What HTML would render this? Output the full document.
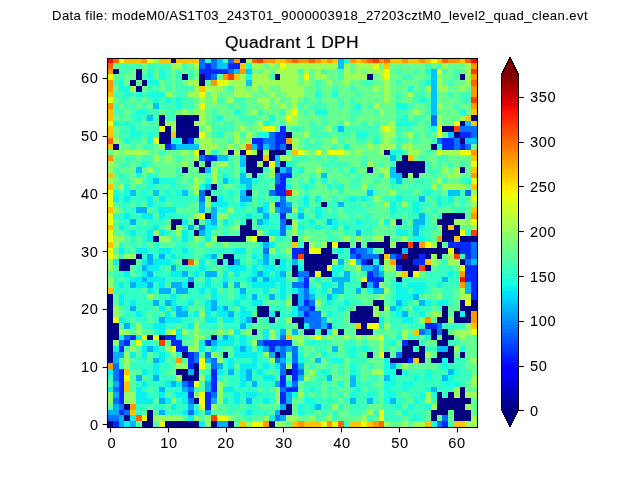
<!DOCTYPE html>
<html><head><meta charset="utf-8"><title>Quadrant 1 DPH</title>
<style>
html,body{margin:0;padding:0;background:#fff;}
body{width:640px;height:480px;position:relative;overflow:hidden;font-family:"Liberation Sans",sans-serif;color:#000;}
svg{position:absolute;left:0;top:0;}
.t{position:absolute;white-space:nowrap;will-change:transform;-webkit-text-stroke:0.05px #000;line-height:1;font-size:14.6px;letter-spacing:0.65px;}
.xt{text-align:center;}
#sup{-webkit-text-stroke:0.08px #000;left:0;width:640px;text-align:center;top:8.7px;font-size:13.1px;letter-spacing:0.41px;}
#ttl{-webkit-text-stroke:0.22px #000;left:92px;width:400px;text-align:center;top:33.8px;font-size:17.4px;letter-spacing:0.4px;}
</style></head>
<body>
<svg width="640" height="480" viewBox="0 0 640 480">
<rect width="640" height="480" fill="#fff"/>
<g shape-rendering="crispEdges">
<path fill="#fa0f00" d="M107 58h6v5h-6zM471 58h7v5h-7zM286 190h6v6h-6zM460 277h5v5h-5z"/>
<path fill="#ff6400" d="M113 58h6v5h-6zM252 58h5v5h-5zM292 58h6v5h-6zM309 58h6v5h-6zM367 58h6v5h-6zM384 58h6v5h-6zM442 58h6v5h-6zM465 58h6v5h-6zM107 63h6v6h-6zM471 80h7v6h-7zM107 138h6v6h-6zM246 144h6v6h-6zM188 259h6v6h-6zM136 415h6v6h-6zM338 421h6v7h-6zM379 421h5v7h-5z"/>
<path fill="#ebff0c" d="M119 58h5v5h-5zM147 58h6v5h-6zM431 58h6v5h-6zM280 63h6v6h-6zM373 63h6v6h-6zM384 69h6v5h-6zM437 69h5v5h-5zM107 74h6v6h-6zM304 74h5v6h-5zM384 74h6v6h-6zM217 80h11v6h-11zM199 92h6v5h-6zM107 97h6v6h-6zM199 103h6v6h-6zM292 109h6v6h-6zM286 115h6v6h-6zM107 121h6v5h-6zM454 121h6v5h-6zM159 126h6v6h-6zM263 126h12v6h-12zM384 126h6v6h-6zM437 126h5v6h-5zM199 132h6v6h-6zM437 132h5v6h-5zM153 138h6v6h-6zM194 150h5v5h-5zM246 150h6v5h-6zM298 150h6v5h-6zM315 150h6v5h-6zM327 150h17v5h-17zM437 150h5v5h-5zM460 150h11v5h-11zM269 161h6v6h-6zM471 161h7v6h-7zM471 178h7v6h-7zM107 190h6v6h-6zM107 196h6v6h-6zM471 196h7v6h-7zM107 202h6v5h-6zM107 213h6v6h-6zM199 213h6v6h-6zM107 219h6v6h-6zM471 219h7v6h-7zM107 230h6v6h-6zM460 230h5v6h-5zM107 236h6v6h-6zM252 236h5v6h-5zM332 242h6v6h-6zM425 242h6v6h-6zM107 248h6v6h-6zM309 248h12v6h-12zM448 248h6v6h-6zM107 254h6v5h-6zM350 259h6v6h-6zM327 265h5v6h-5zM460 265h5v6h-5zM315 271h6v6h-6zM413 271h6v6h-6zM361 277h6v5h-6zM465 300h6v6h-6zM113 317h6v6h-6zM367 323h12v6h-12zM171 329h5v6h-5zM471 329h7v6h-7zM142 335h5v5h-5zM153 335h6v5h-6zM315 335h6v5h-6zM379 335h5v5h-5zM136 340h6v6h-6zM171 346h5v6h-5zM379 352h5v6h-5zM199 358h6v5h-6zM199 363h6v6h-6zM124 375h6v6h-6zM194 381h5v6h-5zM199 392h6v6h-6zM199 398h6v6h-6zM199 404h6v6h-6zM379 410h5v5h-5zM142 415h5v6h-5zM217 415h11v6h-11zM379 415h5v6h-5zM159 421h6v7h-6zM252 421h11v7h-11zM321 421h6v7h-6zM332 421h6v7h-6zM361 421h6v7h-6z"/>
<path fill="#ffc400" d="M124 58h18v5h-18zM159 58h12v5h-12zM176 58h23v5h-23zM275 58h11v5h-11zM321 58h6v5h-6zM332 58h6v5h-6zM356 58h5v5h-5zM390 58h12v5h-12zM408 58h11v5h-11zM425 58h6v5h-6zM437 58h5v5h-5zM460 58h5v5h-5zM240 63h6v6h-6zM384 63h6v6h-6zM234 74h6v6h-6zM199 86h6v6h-6zM107 92h6v5h-6zM107 109h6v6h-6zM471 109h7v6h-7zM107 115h6v6h-6zM465 115h6v6h-6zM471 121h7v5h-7zM107 126h6v6h-6zM107 132h6v6h-6zM171 132h5v6h-5zM107 144h6v6h-6zM292 150h6v5h-6zM263 155h6v6h-6zM408 155h5v6h-5zM471 155h7v6h-7zM471 167h7v6h-7zM107 173h6v5h-6zM107 184h6v6h-6zM471 184h7v6h-7zM107 207h6v6h-6zM471 207h7v6h-7zM107 225h6v5h-6zM448 225h6v5h-6zM454 236h6v6h-6zM107 242h6v6h-6zM292 242h6v6h-6zM384 254h6v5h-6zM425 259h6v6h-6zM402 271h6v6h-6zM107 288h6v6h-6zM356 323h5v6h-5zM471 323h7v6h-7zM413 329h6v6h-6zM286 335h6v5h-6zM413 358h6v5h-6zM124 369h6v6h-6zM124 381h6v6h-6zM124 387h6v5h-6zM130 410h6v5h-6zM240 421h6v7h-6zM292 421h6v7h-6zM304 421h17v7h-17zM350 421h11v7h-11zM367 421h6v7h-6zM425 421h6v7h-6zM454 421h11v7h-11z"/>
<path fill="#ff9800" d="M142 58h5v5h-5zM234 58h6v5h-6zM263 58h12v5h-12zM286 58h6v5h-6zM298 58h11v5h-11zM315 58h6v5h-6zM327 58h5v5h-5zM350 58h6v5h-6zM361 58h6v5h-6zM379 58h5v5h-5zM402 58h6v5h-6zM419 58h6v5h-6zM448 58h12v5h-12zM471 63h7v6h-7zM107 69h6v5h-6zM240 69h6v5h-6zM223 74h5v6h-5zM471 74h7v6h-7zM107 80h6v6h-6zM211 80h6v6h-6zM107 86h6v6h-6zM471 86h7v6h-7zM471 92h7v5h-7zM107 103h6v6h-6zM471 103h7v6h-7zM286 138h6v6h-6zM471 150h7v5h-7zM107 155h6v6h-6zM471 173h7v5h-7zM471 213h7v6h-7zM437 236h5v6h-5zM419 242h6v6h-6zM390 259h6v6h-6zM460 271h5v6h-5zM460 282h5v6h-5zM471 311h7v6h-7zM425 317h6v6h-6zM471 317h7v6h-7zM176 358h6v5h-6zM107 363h6v6h-6zM130 404h6v6h-6zM263 421h6v7h-6zM298 421h6v7h-6zM327 421h5v7h-5zM373 421h6v7h-6z"/>
<path fill="#a0ff56" d="M153 58h6v5h-6zM246 58h6v5h-6zM171 63h11v6h-11zM194 63h5v6h-5zM252 63h11v6h-11zM269 63h6v6h-6zM286 63h52v6h-52zM344 63h6v6h-6zM356 63h17v6h-17zM442 63h6v6h-6zM465 63h6v6h-6zM263 69h6v5h-6zM275 69h23v5h-23zM304 69h5v5h-5zM315 69h6v5h-6zM344 69h6v5h-6zM356 69h5v5h-5zM367 69h17v5h-17zM465 69h6v5h-6zM240 74h6v6h-6zM252 74h17v6h-17zM280 74h18v6h-18zM315 74h12v6h-12zM344 74h23v6h-23zM379 74h5v6h-5zM437 74h5v6h-5zM465 74h6v6h-6zM188 80h11v6h-11zM228 80h18v6h-18zM252 80h46v6h-46zM304 80h5v6h-5zM327 80h5v6h-5zM344 80h6v6h-6zM384 80h6v6h-6zM437 80h5v6h-5zM465 80h6v6h-6zM130 86h6v6h-6zM194 86h5v6h-5zM205 86h18v6h-18zM234 86h12v6h-12zM252 86h5v6h-5zM263 86h6v6h-6zM280 86h24v6h-24zM373 86h6v6h-6zM384 86h6v6h-6zM425 86h6v6h-6zM437 86h11v6h-11zM460 86h5v6h-5zM165 92h6v5h-6zM188 92h11v5h-11zM211 92h6v5h-6zM234 92h18v5h-18zM269 92h6v5h-6zM286 92h18v5h-18zM384 92h6v5h-6zM408 92h5v5h-5zM199 97h6v6h-6zM211 97h6v6h-6zM228 97h6v6h-6zM257 97h12v6h-12zM275 97h5v6h-5zM292 97h6v6h-6zM384 97h6v6h-6zM263 103h6v6h-6zM280 103h6v6h-6zM292 103h6v6h-6zM373 103h6v6h-6zM437 103h5v6h-5zM182 109h6v6h-6zM194 109h11v6h-11zM252 109h5v6h-5zM286 109h6v6h-6zM379 109h5v6h-5zM413 109h6v6h-6zM199 115h6v6h-6zM292 115h6v6h-6zM437 115h5v6h-5zM460 115h5v6h-5zM165 121h11v5h-11zM194 121h11v5h-11zM257 121h6v5h-6zM286 121h12v5h-12zM344 121h6v5h-6zM390 121h6v5h-6zM437 121h5v5h-5zM171 126h5v6h-5zM205 126h6v6h-6zM240 126h6v6h-6zM257 126h6v6h-6zM327 126h5v6h-5zM379 126h5v6h-5zM390 126h6v6h-6zM234 132h6v6h-6zM246 132h6v6h-6zM304 132h5v6h-5zM384 132h12v6h-12zM408 132h5v6h-5zM113 138h6v6h-6zM199 138h12v6h-12zM234 138h6v6h-6zM246 138h6v6h-6zM292 138h6v6h-6zM332 138h6v6h-6zM384 138h6v6h-6zM159 144h6v6h-6zM199 144h18v6h-18zM228 144h6v6h-6zM240 144h6v6h-6zM292 144h6v6h-6zM367 144h6v6h-6zM379 144h17v6h-17zM402 144h11v6h-11zM113 150h6v5h-6zM124 150h23v5h-23zM182 150h6v5h-6zM205 150h6v5h-6zM223 150h5v5h-5zM234 150h6v5h-6zM252 150h5v5h-5zM263 150h6v5h-6zM304 150h5v5h-5zM344 150h6v5h-6zM356 150h5v5h-5zM379 150h5v5h-5zM408 150h11v5h-11zM442 150h18v5h-18zM153 155h6v6h-6zM165 155h6v6h-6zM194 155h5v6h-5zM280 155h12v6h-12zM107 161h6v6h-6zM182 161h6v6h-6zM217 161h11v6h-11zM257 161h6v6h-6zM367 161h6v6h-6zM107 167h6v6h-6zM147 167h6v6h-6zM211 167h6v6h-6zM269 167h6v6h-6zM315 167h6v6h-6zM379 167h11v6h-11zM442 167h6v6h-6zM454 167h6v6h-6zM211 173h6v5h-6zM269 173h6v5h-6zM384 173h6v5h-6zM408 173h5v5h-5zM448 173h12v5h-12zM107 178h6v6h-6zM136 178h6v6h-6zM194 178h5v6h-5zM211 178h6v6h-6zM437 178h5v6h-5zM119 184h5v6h-5zM194 184h5v6h-5zM361 184h6v6h-6zM431 184h6v6h-6zM442 184h23v6h-23zM194 190h5v6h-5zM292 190h6v6h-6zM390 190h6v6h-6zM471 190h7v6h-7z"/>
<path fill="#000080" d="M171 58h5v5h-5zM240 58h6v5h-6zM113 69h6v5h-6zM136 69h6v5h-6zM136 74h6v6h-6zM182 74h6v6h-6zM199 74h6v6h-6zM275 74h5v6h-5zM367 74h6v6h-6zM460 74h5v6h-5zM130 80h6v6h-6zM142 80h5v6h-5zM199 80h6v6h-6zM136 86h6v6h-6zM159 115h6v6h-6zM176 115h23v6h-23zM471 115h7v6h-7zM159 121h6v5h-6zM176 121h18v5h-18zM460 121h5v5h-5zM165 126h6v6h-6zM176 126h23v6h-23zM442 126h12v6h-12zM159 132h12v6h-12zM176 132h23v6h-23zM286 132h6v6h-6zM454 132h6v6h-6zM159 138h12v6h-12zM182 138h6v6h-6zM460 138h5v6h-5zM113 144h6v6h-6zM286 144h6v6h-6zM431 144h6v6h-6zM199 150h6v5h-6zM228 150h6v5h-6zM240 150h6v5h-6zM257 150h6v5h-6zM269 150h17v5h-17zM384 150h6v5h-6zM246 155h17v6h-17zM269 155h6v6h-6zM402 155h6v6h-6zM194 161h5v6h-5zM205 161h6v6h-6zM246 161h11v6h-11zM263 161h6v6h-6zM280 161h6v6h-6zM396 161h29v6h-29zM182 167h6v6h-6zM199 167h6v6h-6zM246 167h17v6h-17zM275 167h5v6h-5zM367 167h6v6h-6zM396 167h29v6h-29zM460 167h5v6h-5zM252 173h5v5h-5zM402 173h6v5h-6zM413 173h6v5h-6zM211 184h6v6h-6zM205 190h6v6h-6zM246 190h6v6h-6zM211 196h6v6h-6zM321 202h6v5h-6zM205 213h6v6h-6zM442 213h23v6h-23zM171 219h11v6h-11zM194 219h5v6h-5zM246 219h6v6h-6zM286 219h6v6h-6zM396 219h6v6h-6zM437 219h17v6h-17zM171 225h5v5h-5zM240 225h12v5h-12zM442 225h6v5h-6zM454 225h6v5h-6zM194 230h5v6h-5zM240 230h17v6h-17zM442 230h18v6h-18zM153 236h6v6h-6zM217 236h29v6h-29zM257 236h12v6h-12zM292 236h6v6h-6zM384 236h6v6h-6zM442 236h12v6h-12zM460 236h18v6h-18zM304 242h5v6h-5zM327 242h5v6h-5zM338 242h12v6h-12zM356 242h5v6h-5zM367 242h23v6h-23zM396 242h12v6h-12zM413 242h6v6h-6zM437 242h5v6h-5zM304 248h5v6h-5zM321 248h11v6h-11zM384 248h18v6h-18zM408 248h40v6h-40zM454 248h6v6h-6zM136 254h6v5h-6zM223 254h11v5h-11zM304 254h34v5h-34zM379 254h5v5h-5zM408 254h11v5h-11zM425 254h6v5h-6zM437 254h5v5h-5zM119 259h17v6h-17zM182 259h6v6h-6zM217 259h6v6h-6zM228 259h6v6h-6zM275 259h5v6h-5zM304 259h28v6h-28zM367 259h6v6h-6zM379 259h5v6h-5zM396 259h17v6h-17zM460 259h5v6h-5zM119 265h11v6h-11zM292 265h6v6h-6zM304 265h23v6h-23zM402 265h17v6h-17zM425 265h6v6h-6zM292 271h6v6h-6zM309 271h6v6h-6zM321 271h11v6h-11zM408 271h5v6h-5zM396 277h6v5h-6zM188 282h6v6h-6zM361 282h6v6h-6zM107 294h6v6h-6zM292 294h6v6h-6zM107 300h6v6h-6zM292 300h6v6h-6zM373 300h11v6h-11zM460 300h5v6h-5zM471 300h7v6h-7zM107 306h6v5h-6zM257 306h12v5h-12zM356 306h17v5h-17zM379 306h5v5h-5zM442 306h6v5h-6zM460 306h18v5h-18zM107 311h6v6h-6zM257 311h12v6h-12zM275 311h5v6h-5zM350 311h23v6h-23zM442 311h6v6h-6zM454 311h6v6h-6zM465 311h6v6h-6zM107 317h6v6h-6zM252 317h5v6h-5zM269 317h6v6h-6zM292 317h12v6h-12zM350 317h29v6h-29zM437 317h11v6h-11zM454 317h17v6h-17zM107 323h12v6h-12zM298 323h6v6h-6zM361 323h6v6h-6zM107 329h12v6h-12zM252 329h5v6h-5zM304 329h11v6h-11zM321 329h6v6h-6zM338 329h6v6h-6zM356 329h17v6h-17zM431 329h6v6h-6zM442 329h6v6h-6zM107 335h12v5h-12zM147 335h6v5h-6zM159 335h6v5h-6zM211 335h6v5h-6zM431 335h6v5h-6zM442 335h12v5h-12zM107 340h6v6h-6zM408 340h11v6h-11zM437 340h11v6h-11zM107 346h6v6h-6zM402 346h11v6h-11zM419 346h6v6h-6zM448 346h6v6h-6zM107 352h6v6h-6zM182 352h6v6h-6zM223 352h5v6h-5zM275 352h5v6h-5zM367 352h6v6h-6zM384 352h6v6h-6zM402 352h23v6h-23zM437 352h17v6h-17zM460 352h5v6h-5zM107 358h6v5h-6zM390 358h18v5h-18zM419 358h6v5h-6zM431 358h11v5h-11zM448 358h6v5h-6zM194 363h5v6h-5zM176 369h12v6h-12zM194 369h5v6h-5zM286 369h6v6h-6zM396 369h6v6h-6zM182 375h17v6h-17zM460 387h5v5h-5zM437 392h5v6h-5zM448 392h6v6h-6zM460 392h5v6h-5zM194 398h5v6h-5zM437 398h34v6h-34zM124 404h6v6h-6zM286 404h6v6h-6zM437 404h28v6h-28zM147 410h6v5h-6zM280 410h12v5h-12zM431 410h17v5h-17zM454 410h17v5h-17zM124 415h6v6h-6zM147 415h6v6h-6zM431 415h6v6h-6zM454 415h17v6h-17zM107 421h6v7h-6zM142 421h11v7h-11zM165 421h34v7h-34zM211 421h6v7h-6zM228 421h6v7h-6zM269 421h6v7h-6z"/>
<path fill="#0070ff" d="M199 58h6v5h-6zM211 58h6v5h-6zM228 58h6v5h-6zM199 63h6v6h-6zM211 63h6v6h-6zM228 69h6v5h-6zM211 74h6v6h-6zM431 115h6v6h-6zM431 121h6v5h-6zM460 126h18v6h-18zM269 132h6v6h-6zM471 132h7v6h-7zM263 138h12v6h-12zM437 138h5v6h-5zM454 138h6v6h-6zM171 144h5v6h-5zM269 144h6v6h-6zM280 144h6v6h-6zM454 144h6v6h-6zM465 144h6v6h-6zM199 155h6v6h-6zM286 167h6v6h-6zM275 173h5v5h-5zM275 178h5v6h-5zM199 190h6v6h-6zM269 190h6v6h-6zM465 190h6v6h-6zM199 196h6v6h-6zM280 196h6v6h-6zM280 202h6v5h-6zM280 207h12v6h-12zM280 219h6v6h-6zM199 225h6v5h-6zM280 225h6v5h-6zM280 230h6v6h-6zM471 242h7v6h-7zM263 248h6v6h-6zM356 248h11v6h-11zM471 248h7v6h-7zM350 254h6v5h-6zM361 254h18v5h-18zM390 254h6v5h-6zM471 254h7v5h-7zM465 259h6v6h-6zM373 265h6v6h-6zM298 271h11v6h-11zM373 271h6v6h-6zM292 282h12v6h-12zM304 288h5v6h-5zM304 294h5v6h-5zM309 300h6v6h-6zM298 306h11v5h-11zM309 311h12v6h-12zM304 317h17v6h-17zM309 323h12v6h-12zM437 323h5v6h-5zM419 329h6v6h-6zM437 329h5v6h-5zM124 335h6v5h-6zM280 335h6v5h-6zM119 340h5v6h-5zM257 340h6v6h-6zM280 346h6v6h-6zM292 346h6v6h-6zM194 352h5v6h-5zM205 352h6v6h-6zM280 352h6v6h-6zM292 352h6v6h-6zM396 352h6v6h-6zM194 358h5v5h-5zM211 358h6v5h-6zM275 358h5v5h-5zM292 358h6v5h-6zM113 363h6v6h-6zM211 363h6v6h-6zM280 363h6v6h-6zM113 369h6v6h-6zM280 369h6v6h-6zM298 369h6v6h-6zM113 375h6v6h-6zM182 381h6v6h-6zM292 381h6v6h-6zM113 387h6v5h-6zM188 387h6v5h-6zM280 387h6v5h-6zM211 392h6v6h-6zM113 398h6v6h-6zM188 398h6v6h-6zM119 404h5v6h-5zM124 410h6v5h-6zM188 410h6v5h-6zM107 415h12v6h-12zM275 415h5v6h-5zM442 415h6v6h-6zM437 421h5v7h-5z"/>
<path fill="#19ffde" d="M205 58h6v5h-6zM344 58h6v5h-6zM246 63h6v6h-6zM147 69h6v5h-6zM159 69h6v5h-6zM425 69h6v5h-6zM147 74h6v6h-6zM159 74h6v6h-6zM246 74h6v6h-6zM119 80h5v6h-5zM147 80h12v6h-12zM425 80h6v6h-6zM119 86h11v6h-11zM408 86h5v6h-5zM124 92h6v5h-6zM136 92h6v5h-6zM147 92h18v5h-18zM315 92h6v5h-6zM332 92h6v5h-6zM153 97h6v6h-6zM165 97h6v6h-6zM176 97h6v6h-6zM419 97h6v6h-6zM176 103h6v6h-6zM356 103h5v6h-5zM396 103h12v6h-12zM136 109h11v6h-11zM234 109h6v6h-6zM315 109h12v6h-12zM460 109h5v6h-5zM136 115h6v6h-6zM217 115h6v6h-6zM269 115h6v6h-6zM402 115h6v6h-6zM113 121h6v5h-6zM124 121h6v5h-6zM263 121h6v5h-6zM396 121h17v5h-17zM130 126h6v6h-6zM431 126h6v6h-6zM130 132h12v6h-12zM147 132h6v6h-6zM217 132h6v6h-6zM257 132h12v6h-12zM356 132h11v6h-11zM124 138h6v6h-6zM147 138h6v6h-6zM171 138h11v6h-11zM373 138h6v6h-6zM344 144h6v6h-6zM437 144h5v6h-5zM211 150h6v5h-6zM390 150h12v5h-12zM142 161h5v6h-5zM286 161h6v6h-6zM240 167h6v6h-6zM298 167h6v6h-6zM350 167h6v6h-6zM119 173h5v5h-5zM136 173h6v5h-6zM147 173h6v5h-6zM223 173h5v5h-5zM379 173h5v5h-5zM147 178h6v6h-6zM159 178h17v6h-17zM205 178h6v6h-6zM228 178h6v6h-6zM252 178h5v6h-5zM309 178h6v6h-6zM321 178h6v6h-6zM390 178h6v6h-6zM465 178h6v6h-6zM124 184h6v6h-6zM147 184h6v6h-6zM171 184h5v6h-5zM199 184h6v6h-6zM240 184h6v6h-6zM286 184h6v6h-6zM304 184h5v6h-5zM327 184h5v6h-5zM338 184h6v6h-6zM113 190h6v6h-6zM124 190h6v6h-6zM142 190h5v6h-5zM165 190h6v6h-6zM176 190h6v6h-6zM228 190h6v6h-6zM425 190h6v6h-6z"/>
<path fill="#00c4ff" d="M217 58h6v5h-6zM338 58h6v5h-6zM217 63h11v6h-11zM338 63h6v6h-6zM234 69h6v5h-6zM246 69h6v5h-6zM431 69h6v5h-6zM431 74h6v6h-6zM246 80h6v6h-6zM431 80h6v6h-6zM431 86h6v6h-6zM431 92h6v5h-6zM431 97h6v6h-6zM153 103h6v6h-6zM431 103h6v6h-6zM431 109h6v6h-6zM147 115h6v6h-6zM465 121h6v5h-6zM338 126h6v6h-6zM448 132h6v6h-6zM465 138h13v6h-13zM176 144h23v6h-23zM252 144h5v6h-5zM263 144h6v6h-6zM217 155h11v6h-11zM240 155h6v6h-6zM275 155h5v6h-5zM390 155h6v6h-6zM240 161h6v6h-6zM275 161h5v6h-5zM136 167h6v6h-6zM205 167h6v6h-6zM280 167h6v6h-6zM390 167h6v6h-6zM240 173h6v5h-6zM321 173h6v5h-6zM390 173h12v5h-12zM153 178h6v6h-6zM223 178h5v6h-5zM240 178h12v6h-12zM396 178h6v6h-6zM205 184h6v6h-6zM246 184h6v6h-6zM130 190h6v6h-6zM153 190h6v6h-6zM182 190h6v6h-6zM240 190h6v6h-6zM367 190h6v6h-6zM448 190h12v6h-12z"/>
<path fill="#40ffb7" d="M223 58h5v5h-5zM119 63h23v6h-23zM147 63h24v6h-24zM182 63h6v6h-6zM425 63h6v6h-6zM437 63h5v6h-5zM119 69h11v5h-11zM165 69h6v5h-6zM176 69h6v5h-6zM188 69h6v5h-6zM298 69h6v5h-6zM321 69h6v5h-6zM338 69h6v5h-6zM396 69h6v5h-6zM413 69h6v5h-6zM442 69h6v5h-6zM454 69h6v5h-6zM119 74h5v6h-5zM142 74h5v6h-5zM165 74h6v6h-6zM176 74h6v6h-6zM188 74h6v6h-6zM269 74h6v6h-6zM338 74h6v6h-6zM402 74h11v6h-11zM425 74h6v6h-6zM454 74h6v6h-6zM113 80h6v6h-6zM165 80h6v6h-6zM176 80h6v6h-6zM315 80h6v6h-6zM361 80h12v6h-12zM396 80h6v6h-6zM419 80h6v6h-6zM448 80h6v6h-6zM147 86h12v6h-12zM165 86h6v6h-6zM176 86h18v6h-18zM228 86h6v6h-6zM315 86h6v6h-6zM332 86h6v6h-6zM350 86h6v6h-6zM419 86h6v6h-6zM113 92h11v5h-11zM130 92h6v5h-6zM142 92h5v5h-5zM176 92h12v5h-12zM356 92h5v5h-5zM396 92h6v5h-6zM413 92h12v5h-12zM448 92h6v5h-6zM460 92h11v5h-11zM119 97h11v6h-11zM136 97h6v6h-6zM147 97h6v6h-6zM159 97h6v6h-6zM171 97h5v6h-5zM182 97h12v6h-12zM217 97h6v6h-6zM234 97h12v6h-12zM304 97h5v6h-5zM315 97h6v6h-6zM338 97h6v6h-6zM350 97h6v6h-6zM396 97h6v6h-6zM413 97h6v6h-6zM425 97h6v6h-6zM460 97h11v6h-11zM113 103h6v6h-6zM124 103h12v6h-12zM142 103h5v6h-5zM159 103h17v6h-17zM182 103h12v6h-12zM228 103h6v6h-6zM240 103h6v6h-6zM298 103h6v6h-6zM309 103h18v6h-18zM338 103h6v6h-6zM350 103h6v6h-6zM367 103h6v6h-6zM408 103h5v6h-5zM425 103h6v6h-6zM454 103h6v6h-6zM113 109h11v6h-11zM130 109h6v6h-6zM147 109h12v6h-12zM165 109h11v6h-11zM211 109h6v6h-6zM240 109h6v6h-6zM257 109h6v6h-6zM280 109h6v6h-6zM304 109h5v6h-5zM350 109h11v6h-11zM373 109h6v6h-6zM396 109h12v6h-12zM425 109h6v6h-6zM119 115h5v6h-5zM130 115h6v6h-6zM142 115h5v6h-5zM153 115h6v6h-6zM165 115h11v6h-11zM211 115h6v6h-6zM240 115h17v6h-17zM321 115h6v6h-6zM350 115h6v6h-6zM396 115h6v6h-6zM413 115h12v6h-12zM119 121h5v5h-5zM130 121h12v5h-12zM147 121h6v5h-6zM211 121h6v5h-6zM223 121h11v5h-11zM246 121h6v5h-6zM269 121h6v5h-6zM280 121h6v5h-6zM309 121h6v5h-6zM321 121h6v5h-6zM338 121h6v5h-6zM361 121h6v5h-6zM373 121h6v5h-6zM413 121h6v5h-6zM425 121h6v5h-6zM119 126h11v6h-11zM136 126h23v6h-23zM211 126h23v6h-23zM292 126h12v6h-12zM309 126h12v6h-12zM332 126h6v6h-6zM344 126h35v6h-35zM396 126h17v6h-17zM425 126h6v6h-6zM119 132h11v6h-11zM142 132h5v6h-5zM153 132h6v6h-6zM211 132h6v6h-6zM240 132h6v6h-6zM309 132h23v6h-23zM338 132h12v6h-12zM367 132h12v6h-12zM396 132h6v6h-6zM413 132h6v6h-6zM425 132h6v6h-6zM130 138h12v6h-12zM228 138h6v6h-6zM304 138h5v6h-5zM315 138h6v6h-6zM338 138h6v6h-6zM356 138h11v6h-11zM396 138h12v6h-12zM413 138h6v6h-6zM431 138h6v6h-6zM130 144h6v6h-6zM142 144h11v6h-11zM304 144h17v6h-17zM332 144h6v6h-6zM396 144h6v6h-6zM159 150h6v5h-6zM286 150h6v5h-6zM402 150h6v5h-6zM425 150h6v5h-6zM124 155h12v6h-12zM142 155h11v6h-11zM176 155h6v6h-6zM228 155h6v6h-6zM292 155h17v6h-17zM315 155h6v6h-6zM327 155h11v6h-11zM361 155h6v6h-6zM396 155h6v6h-6zM419 155h6v6h-6zM437 155h11v6h-11zM119 161h11v6h-11zM136 161h6v6h-6zM147 161h6v6h-6zM228 161h6v6h-6zM292 161h6v6h-6zM321 161h29v6h-29zM361 161h6v6h-6zM379 161h5v6h-5zM390 161h6v6h-6zM425 161h6v6h-6zM437 161h5v6h-5zM448 161h6v6h-6zM460 161h5v6h-5zM113 167h6v6h-6zM153 167h6v6h-6zM176 167h6v6h-6zM217 167h17v6h-17zM263 167h6v6h-6zM292 167h6v6h-6zM327 167h5v6h-5zM338 167h6v6h-6zM425 167h17v6h-17zM124 173h6v5h-6zM153 173h6v5h-6zM176 173h6v5h-6zM205 173h6v5h-6zM217 173h6v5h-6zM228 173h6v5h-6zM257 173h6v5h-6zM292 173h6v5h-6zM309 173h6v5h-6zM344 173h6v5h-6zM356 173h5v5h-5zM431 173h6v5h-6zM119 178h11v6h-11zM142 178h5v6h-5zM176 178h6v6h-6zM188 178h6v6h-6zM217 178h6v6h-6zM234 178h6v6h-6zM257 178h18v6h-18zM286 178h6v6h-6zM298 178h6v6h-6zM332 178h6v6h-6zM350 178h11v6h-11zM373 178h6v6h-6zM402 178h6v6h-6zM413 178h18v6h-18zM442 178h6v6h-6zM460 178h5v6h-5zM136 184h11v6h-11zM153 184h18v6h-18zM176 184h12v6h-12zM217 184h6v6h-6zM234 184h6v6h-6zM252 184h17v6h-17zM298 184h6v6h-6zM309 184h6v6h-6zM332 184h6v6h-6zM350 184h11v6h-11zM367 184h6v6h-6zM390 184h12v6h-12zM408 184h23v6h-23zM437 184h5v6h-5zM119 190h5v6h-5zM136 190h6v6h-6zM147 190h6v6h-6zM159 190h6v6h-6zM171 190h5v6h-5zM188 190h6v6h-6zM211 190h17v6h-17zM234 190h6v6h-6zM257 190h12v6h-12zM304 190h5v6h-5zM338 190h6v6h-6zM373 190h6v6h-6zM396 190h17v6h-17zM419 190h6v6h-6zM431 190h11v6h-11zM460 190h5v6h-5z"/>
<path fill="#ff3f00" d="M257 58h6v5h-6zM373 58h6v5h-6zM471 69h7v5h-7zM228 74h6v6h-6zM471 97h7v6h-7zM454 126h6v6h-6zM471 230h7v6h-7zM408 242h5v6h-5zM298 254h6v5h-6zM454 254h6v5h-6zM419 265h6v6h-6zM159 340h6v6h-6zM211 415h6v6h-6z"/>
<path fill="#66ff90" d="M113 63h6v6h-6zM142 63h5v6h-5zM188 63h6v6h-6zM263 63h6v6h-6zM275 63h5v6h-5zM350 63h6v6h-6zM379 63h5v6h-5zM390 63h35v6h-35zM431 63h6v6h-6zM448 63h17v6h-17zM130 69h6v5h-6zM142 69h5v5h-5zM153 69h6v5h-6zM171 69h5v5h-5zM182 69h6v5h-6zM194 69h5v5h-5zM252 69h11v5h-11zM269 69h6v5h-6zM309 69h6v5h-6zM327 69h11v5h-11zM350 69h6v5h-6zM361 69h6v5h-6zM390 69h6v5h-6zM402 69h11v5h-11zM419 69h6v5h-6zM448 69h6v5h-6zM460 69h5v5h-5zM113 74h6v6h-6zM124 74h12v6h-12zM153 74h6v6h-6zM171 74h5v6h-5zM194 74h5v6h-5zM217 74h6v6h-6zM298 74h6v6h-6zM309 74h6v6h-6zM327 74h11v6h-11zM373 74h6v6h-6zM390 74h12v6h-12zM413 74h12v6h-12zM442 74h12v6h-12zM124 80h6v6h-6zM136 80h6v6h-6zM159 80h6v6h-6zM171 80h5v6h-5zM182 80h6v6h-6zM205 80h6v6h-6zM298 80h6v6h-6zM309 80h6v6h-6zM321 80h6v6h-6zM332 80h12v6h-12zM350 80h11v6h-11zM373 80h11v6h-11zM390 80h6v6h-6zM402 80h17v6h-17zM442 80h6v6h-6zM454 80h11v6h-11zM113 86h6v6h-6zM142 86h5v6h-5zM159 86h6v6h-6zM171 86h5v6h-5zM223 86h5v6h-5zM246 86h6v6h-6zM257 86h6v6h-6zM269 86h11v6h-11zM304 86h11v6h-11zM321 86h11v6h-11zM338 86h12v6h-12zM356 86h17v6h-17zM379 86h5v6h-5zM390 86h18v6h-18zM413 86h6v6h-6zM448 86h12v6h-12zM465 86h6v6h-6zM171 92h5v5h-5zM205 92h6v5h-6zM217 92h17v5h-17zM252 92h17v5h-17zM275 92h11v5h-11zM304 92h11v5h-11zM321 92h11v5h-11zM338 92h18v5h-18zM361 92h23v5h-23zM390 92h6v5h-6zM402 92h6v5h-6zM425 92h6v5h-6zM437 92h11v5h-11zM454 92h6v5h-6zM113 97h6v6h-6zM130 97h6v6h-6zM142 97h5v6h-5zM194 97h5v6h-5zM205 97h6v6h-6zM223 97h5v6h-5zM246 97h11v6h-11zM269 97h6v6h-6zM280 97h12v6h-12zM298 97h6v6h-6zM309 97h6v6h-6zM321 97h17v6h-17zM344 97h6v6h-6zM356 97h28v6h-28zM390 97h6v6h-6zM402 97h11v6h-11zM437 97h23v6h-23zM119 103h5v6h-5zM136 103h6v6h-6zM147 103h6v6h-6zM194 103h5v6h-5zM205 103h23v6h-23zM234 103h6v6h-6zM246 103h17v6h-17zM269 103h11v6h-11zM286 103h6v6h-6zM304 103h5v6h-5zM327 103h11v6h-11zM344 103h6v6h-6zM361 103h6v6h-6zM379 103h17v6h-17zM413 103h12v6h-12zM442 103h12v6h-12zM460 103h11v6h-11zM124 109h6v6h-6zM159 109h6v6h-6zM176 109h6v6h-6zM188 109h6v6h-6zM205 109h6v6h-6zM217 109h17v6h-17zM246 109h6v6h-6zM263 109h17v6h-17zM298 109h6v6h-6zM309 109h6v6h-6zM327 109h23v6h-23zM361 109h12v6h-12zM384 109h12v6h-12zM408 109h5v6h-5zM419 109h6v6h-6zM437 109h23v6h-23zM465 109h6v6h-6zM113 115h6v6h-6zM124 115h6v6h-6zM205 115h6v6h-6zM223 115h17v6h-17zM257 115h12v6h-12zM275 115h11v6h-11zM298 115h23v6h-23zM327 115h23v6h-23zM356 115h40v6h-40zM408 115h5v6h-5zM425 115h6v6h-6zM442 115h18v6h-18zM142 121h5v5h-5zM153 121h6v5h-6zM205 121h6v5h-6zM217 121h6v5h-6zM234 121h12v5h-12zM252 121h5v5h-5zM275 121h5v5h-5zM298 121h11v5h-11zM315 121h6v5h-6zM327 121h11v5h-11zM350 121h11v5h-11zM367 121h6v5h-6zM379 121h11v5h-11zM419 121h6v5h-6zM442 121h12v5h-12zM113 126h6v6h-6zM199 126h6v6h-6zM234 126h6v6h-6zM246 126h11v6h-11zM275 126h5v6h-5zM286 126h6v6h-6zM304 126h5v6h-5zM321 126h6v6h-6zM413 126h12v6h-12zM113 132h6v6h-6zM205 132h6v6h-6zM223 132h11v6h-11zM252 132h5v6h-5zM292 132h12v6h-12zM332 132h6v6h-6zM350 132h6v6h-6zM379 132h5v6h-5zM402 132h6v6h-6zM419 132h6v6h-6zM431 132h6v6h-6zM442 132h6v6h-6zM119 138h5v6h-5zM142 138h5v6h-5zM194 138h5v6h-5zM211 138h17v6h-17zM240 138h6v6h-6zM298 138h6v6h-6zM309 138h6v6h-6zM321 138h11v6h-11zM344 138h12v6h-12zM367 138h6v6h-6zM379 138h5v6h-5zM390 138h6v6h-6zM408 138h5v6h-5zM419 138h12v6h-12zM119 144h11v6h-11zM136 144h6v6h-6zM153 144h6v6h-6zM217 144h11v6h-11zM234 144h6v6h-6zM298 144h6v6h-6zM321 144h11v6h-11zM338 144h6v6h-6zM350 144h17v6h-17zM373 144h6v6h-6zM413 144h18v6h-18zM471 144h7v6h-7zM107 150h6v5h-6zM119 150h5v5h-5zM147 150h12v5h-12zM165 150h17v5h-17zM188 150h6v5h-6zM217 150h6v5h-6zM309 150h6v5h-6zM321 150h6v5h-6zM350 150h6v5h-6zM361 150h18v5h-18zM419 150h6v5h-6zM431 150h6v5h-6zM113 155h11v6h-11zM136 155h6v6h-6zM159 155h6v6h-6zM171 155h5v6h-5zM182 155h12v6h-12zM234 155h6v6h-6zM309 155h6v6h-6zM321 155h6v6h-6zM338 155h23v6h-23zM367 155h23v6h-23zM413 155h6v6h-6zM425 155h12v6h-12zM448 155h23v6h-23zM113 161h6v6h-6zM130 161h6v6h-6zM153 161h29v6h-29zM188 161h6v6h-6zM199 161h6v6h-6zM211 161h6v6h-6zM234 161h6v6h-6zM298 161h23v6h-23zM350 161h11v6h-11zM373 161h6v6h-6zM384 161h6v6h-6zM431 161h6v6h-6zM442 161h6v6h-6zM454 161h6v6h-6zM465 161h6v6h-6zM119 167h17v6h-17zM142 167h5v6h-5zM159 167h17v6h-17zM188 167h11v6h-11zM234 167h6v6h-6zM304 167h11v6h-11zM321 167h6v6h-6zM332 167h6v6h-6zM344 167h6v6h-6zM356 167h11v6h-11zM373 167h6v6h-6zM448 167h6v6h-6zM465 167h6v6h-6zM113 173h6v5h-6zM130 173h6v5h-6zM142 173h5v5h-5zM159 173h17v5h-17zM182 173h23v5h-23zM234 173h6v5h-6zM246 173h6v5h-6zM263 173h6v5h-6zM298 173h11v5h-11zM315 173h6v5h-6zM327 173h17v5h-17zM350 173h6v5h-6zM361 173h18v5h-18zM419 173h12v5h-12zM437 173h11v5h-11zM460 173h11v5h-11zM113 178h6v6h-6zM130 178h6v6h-6zM182 178h6v6h-6zM199 178h6v6h-6zM292 178h6v6h-6zM304 178h5v6h-5zM315 178h6v6h-6zM327 178h5v6h-5zM338 178h12v6h-12zM361 178h12v6h-12zM379 178h11v6h-11zM408 178h5v6h-5zM431 178h6v6h-6zM448 178h12v6h-12zM113 184h6v6h-6zM130 184h6v6h-6zM188 184h6v6h-6zM223 184h11v6h-11zM269 184h6v6h-6zM292 184h6v6h-6zM315 184h12v6h-12zM344 184h6v6h-6zM373 184h17v6h-17zM402 184h6v6h-6zM465 184h6v6h-6zM252 190h5v6h-5zM298 190h6v6h-6zM309 190h29v6h-29zM344 190h23v6h-23zM379 190h11v6h-11zM413 190h6v6h-6zM442 190h6v6h-6z"/>
<path fill="#0028ff" d="M205 63h6v6h-6zM228 63h12v6h-12zM199 69h29v5h-29zM205 74h6v6h-6zM280 126h6v6h-6zM275 132h11v6h-11zM460 132h11v6h-11zM188 138h6v6h-6zM252 138h11v6h-11zM275 138h11v6h-11zM442 138h12v6h-12zM165 144h6v6h-6zM257 144h6v6h-6zM275 144h5v6h-5zM442 144h12v6h-12zM460 144h5v6h-5zM205 155h12v6h-12zM280 173h12v5h-12zM280 178h6v6h-6zM275 184h11v6h-11zM275 190h11v6h-11zM275 202h5v5h-5zM280 213h6v6h-6zM448 242h23v6h-23zM292 248h12v6h-12zM350 248h6v6h-6zM460 248h11v6h-11zM292 254h6v5h-6zM356 254h5v5h-5zM396 254h6v5h-6zM419 254h6v5h-6zM465 254h6v5h-6zM361 259h6v6h-6zM413 259h12v6h-12zM396 265h6v6h-6zM465 265h13v6h-13zM367 271h6v6h-6zM465 271h13v6h-13zM304 277h5v5h-5zM367 277h17v5h-17zM465 277h13v5h-13zM304 282h5v6h-5zM373 282h6v6h-6zM471 282h7v6h-7zM471 288h7v6h-7zM471 294h7v6h-7zM304 300h5v6h-5zM309 306h6v5h-6zM304 311h5v6h-5zM327 323h5v6h-5zM425 323h12v6h-12zM130 335h6v5h-6zM165 335h11v5h-11zM124 340h6v6h-6zM171 340h11v6h-11zM205 340h6v6h-6zM263 340h29v6h-29zM402 340h6v6h-6zM119 346h5v6h-5zM176 346h12v6h-12zM269 346h6v6h-6zM188 352h6v6h-6zM188 358h6v5h-6zM408 358h5v5h-5zM188 363h6v6h-6zM292 363h6v6h-6zM119 369h5v6h-5zM211 369h6v6h-6zM292 369h6v6h-6zM119 375h5v6h-5zM211 375h6v6h-6zM280 375h6v6h-6zM292 375h6v6h-6zM119 381h5v6h-5zM188 381h6v6h-6zM211 381h6v6h-6zM280 381h6v6h-6zM119 387h5v5h-5zM211 387h6v5h-6zM286 387h12v5h-12zM119 392h5v6h-5zM188 392h6v6h-6zM205 392h6v6h-6zM280 392h6v6h-6zM119 398h5v6h-5zM205 398h6v6h-6zM280 398h6v6h-6zM205 404h6v6h-6zM119 410h5v5h-5zM113 421h6v7h-6zM442 421h6v7h-6z"/>
<path fill="#09f0ee" d="M113 196h6v6h-6zM124 196h6v6h-6zM147 196h6v6h-6zM159 196h6v6h-6zM217 196h6v6h-6zM147 202h6v5h-6zM211 202h17v5h-17zM240 202h6v5h-6zM263 202h6v5h-6zM159 207h17v6h-17zM263 207h6v6h-6zM124 213h6v6h-6zM142 213h11v6h-11zM159 213h6v6h-6zM246 213h6v6h-6zM182 219h6v6h-6zM205 219h6v6h-6zM223 219h5v6h-5zM263 219h6v6h-6zM119 225h5v5h-5zM153 225h6v5h-6zM205 225h12v5h-12zM286 225h6v5h-6zM130 230h6v6h-6zM147 230h6v6h-6zM159 230h6v6h-6zM182 230h6v6h-6zM205 230h6v6h-6zM269 230h11v6h-11zM147 236h6v6h-6zM182 236h6v6h-6zM205 236h6v6h-6zM269 242h6v6h-6zM119 248h5v6h-5zM136 248h11v6h-11zM159 248h12v6h-12zM182 248h6v6h-6zM234 248h12v6h-12zM171 254h5v5h-5zM205 254h6v5h-6zM252 254h5v5h-5zM113 259h6v6h-6zM142 259h5v6h-5zM153 259h18v6h-18zM199 259h6v6h-6zM257 259h6v6h-6zM280 259h6v6h-6zM147 265h12v6h-12zM199 265h6v6h-6zM228 265h18v6h-18zM252 265h5v6h-5zM263 265h12v6h-12zM280 265h6v6h-6zM124 271h6v6h-6zM142 271h5v6h-5zM171 271h11v6h-11zM194 271h5v6h-5zM223 271h5v6h-5zM234 271h6v6h-6zM252 271h5v6h-5zM263 271h6v6h-6zM275 271h5v6h-5zM130 277h12v5h-12zM147 277h18v5h-18zM205 277h6v5h-6zM223 277h5v5h-5zM246 277h6v5h-6zM269 277h17v5h-17zM119 282h5v6h-5zM136 282h11v6h-11zM159 282h6v6h-6zM182 282h6v6h-6zM205 282h6v6h-6zM252 282h23v6h-23zM280 282h6v6h-6zM147 288h6v6h-6zM199 288h6v6h-6zM211 288h6v6h-6zM263 288h6v6h-6zM280 288h6v6h-6zM119 294h5v6h-5zM171 294h5v6h-5zM211 294h6v6h-6zM240 294h6v6h-6zM280 294h6v6h-6zM119 300h5v6h-5zM130 300h6v6h-6zM171 300h5v6h-5zM188 300h6v6h-6zM205 300h6v6h-6zM234 300h6v6h-6zM252 300h11v6h-11zM159 306h6v5h-6zM171 306h5v5h-5zM182 306h6v5h-6zM205 306h6v5h-6zM217 306h6v5h-6zM240 306h6v5h-6zM136 311h6v6h-6zM165 311h6v6h-6zM194 311h5v6h-5zM205 311h6v6h-6zM217 311h11v6h-11zM240 311h12v6h-12zM269 311h6v6h-6zM119 317h5v6h-5zM165 317h17v6h-17zM205 317h12v6h-12zM223 317h11v6h-11zM240 317h6v6h-6zM153 323h12v6h-12zM188 323h6v6h-6zM159 329h6v6h-6zM176 329h6v6h-6zM234 329h6v6h-6zM263 329h6v6h-6zM119 335h5v5h-5zM136 335h6v5h-6zM176 335h6v5h-6zM228 335h6v5h-6zM240 335h6v5h-6zM263 335h6v5h-6zM199 340h6v6h-6zM217 340h17v6h-17zM240 340h6v6h-6zM113 346h6v6h-6zM142 346h5v6h-5zM153 346h6v6h-6zM199 346h6v6h-6zM211 346h6v6h-6zM234 346h6v6h-6zM246 346h6v6h-6zM257 346h6v6h-6zM130 352h6v6h-6zM142 352h5v6h-5zM159 352h6v6h-6zM234 352h23v6h-23zM159 358h6v5h-6zM228 358h6v5h-6zM252 358h5v5h-5zM153 363h6v6h-6zM228 363h6v6h-6zM240 363h17v6h-17zM263 363h6v6h-6zM275 363h5v6h-5zM107 369h6v6h-6zM142 369h5v6h-5zM153 369h6v6h-6zM217 369h6v6h-6zM240 369h6v6h-6zM257 369h6v6h-6zM205 375h6v6h-6zM240 375h6v6h-6zM263 375h12v6h-12zM142 381h5v6h-5zM165 381h6v6h-6zM176 381h6v6h-6zM240 381h6v6h-6zM286 381h6v6h-6zM107 387h6v5h-6zM136 387h6v5h-6zM223 387h11v5h-11zM136 392h11v6h-11zM159 392h6v6h-6zM176 392h12v6h-12zM234 392h6v6h-6zM246 392h11v6h-11zM136 398h17v6h-17zM165 398h6v6h-6zM182 398h6v6h-6zM223 398h5v6h-5zM234 398h6v6h-6zM263 398h6v6h-6zM171 404h5v6h-5zM182 410h6v5h-6zM194 410h5v5h-5zM246 410h6v5h-6zM130 415h6v6h-6zM188 415h6v6h-6zM269 415h6v6h-6zM124 421h6v7h-6zM199 421h6v7h-6z"/>
<path fill="#30ffc7" d="M119 196h5v6h-5zM130 196h17v6h-17zM165 196h34v6h-34zM223 196h11v6h-11zM257 196h6v6h-6zM269 196h11v6h-11zM119 202h11v5h-11zM136 202h6v5h-6zM153 202h12v5h-12zM171 202h17v5h-17zM228 202h12v5h-12zM246 202h6v5h-6zM257 202h6v5h-6zM124 207h12v6h-12zM153 207h6v6h-6zM217 207h11v6h-11zM234 207h12v6h-12zM252 207h5v6h-5zM113 213h11v6h-11zM130 213h12v6h-12zM165 213h23v6h-23zM228 213h18v6h-18zM252 213h11v6h-11zM269 213h11v6h-11zM119 219h11v6h-11zM136 219h6v6h-6zM147 219h18v6h-18zM228 219h6v6h-6zM240 219h6v6h-6zM269 219h11v6h-11zM124 225h6v5h-6zM136 225h17v5h-17zM223 225h5v5h-5zM257 225h23v5h-23zM124 230h6v6h-6zM136 230h11v6h-11zM165 230h6v6h-6zM188 230h6v6h-6zM223 230h5v6h-5zM263 230h6v6h-6zM130 236h6v6h-6zM142 236h5v6h-5zM171 236h5v6h-5zM188 236h6v6h-6zM275 236h11v6h-11zM119 242h5v6h-5zM130 242h6v6h-6zM142 242h5v6h-5zM153 242h6v6h-6zM176 242h12v6h-12zM199 242h6v6h-6zM257 242h6v6h-6zM124 248h6v6h-6zM147 248h12v6h-12zM171 248h11v6h-11zM188 248h6v6h-6zM205 248h29v6h-29zM252 248h11v6h-11zM275 248h5v6h-5zM119 254h5v5h-5zM142 254h5v5h-5zM153 254h6v5h-6zM165 254h6v5h-6zM176 254h18v5h-18zM199 254h6v5h-6zM234 254h12v5h-12zM257 254h6v5h-6zM269 254h17v5h-17zM171 259h5v6h-5zM211 259h6v6h-6zM223 259h5v6h-5zM240 259h6v6h-6zM252 259h5v6h-5zM269 259h6v6h-6zM286 259h6v6h-6zM136 265h6v6h-6zM159 265h6v6h-6zM176 265h23v6h-23zM205 265h6v6h-6zM223 265h5v6h-5zM246 265h6v6h-6zM257 265h6v6h-6zM275 265h5v6h-5zM286 265h6v6h-6zM113 271h11v6h-11zM136 271h6v6h-6zM153 271h18v6h-18zM188 271h6v6h-6zM199 271h6v6h-6zM240 271h12v6h-12zM269 271h6v6h-6zM113 277h6v5h-6zM124 277h6v5h-6zM165 277h23v5h-23zM217 277h6v5h-6zM228 277h18v5h-18zM257 277h6v5h-6zM113 282h6v6h-6zM124 282h6v6h-6zM153 282h6v6h-6zM194 282h11v6h-11zM211 282h12v6h-12zM246 282h6v6h-6zM275 282h5v6h-5zM286 282h6v6h-6zM113 288h29v6h-29zM153 288h6v6h-6zM188 288h11v6h-11zM205 288h6v6h-6zM223 288h5v6h-5zM234 288h6v6h-6zM246 288h17v6h-17zM275 288h5v6h-5zM286 288h6v6h-6zM124 294h23v6h-23zM159 294h12v6h-12zM176 294h6v6h-6zM188 294h17v6h-17zM217 294h11v6h-11zM234 294h6v6h-6zM246 294h6v6h-6zM257 294h12v6h-12zM275 294h5v6h-5zM124 300h6v6h-6zM136 300h17v6h-17zM159 300h6v6h-6zM176 300h12v6h-12zM199 300h6v6h-6zM217 300h17v6h-17zM240 300h12v6h-12zM280 300h6v6h-6zM124 306h6v5h-6zM136 306h17v5h-17zM228 306h6v5h-6zM246 306h11v5h-11zM269 306h17v5h-17zM124 311h12v6h-12zM142 311h5v6h-5zM153 311h6v6h-6zM188 311h6v6h-6zM211 311h6v6h-6zM234 311h6v6h-6zM280 311h12v6h-12zM124 317h6v6h-6zM136 317h11v6h-11zM153 317h6v6h-6zM182 317h12v6h-12zM234 317h6v6h-6zM263 317h6v6h-6zM280 317h6v6h-6zM130 323h6v6h-6zM142 323h11v6h-11zM165 323h11v6h-11zM182 323h6v6h-6zM199 323h18v6h-18zM223 323h17v6h-17zM246 323h6v6h-6zM269 323h17v6h-17zM153 329h6v6h-6zM275 329h5v6h-5zM182 335h6v5h-6zM205 335h6v5h-6zM217 335h6v5h-6zM234 335h6v5h-6zM246 335h6v5h-6zM275 335h5v5h-5zM142 340h11v6h-11zM234 340h6v6h-6zM246 340h6v6h-6zM159 346h6v6h-6zM217 346h6v6h-6zM153 352h6v6h-6zM165 352h6v6h-6zM176 352h6v6h-6zM257 352h6v6h-6zM136 358h11v5h-11zM171 358h5v5h-5zM223 358h5v5h-5zM234 358h18v5h-18zM257 358h12v5h-12zM286 358h6v5h-6zM119 363h5v6h-5zM130 363h23v6h-23zM159 363h12v6h-12zM223 363h5v6h-5zM257 363h6v6h-6zM269 363h6v6h-6zM147 369h6v6h-6zM159 369h6v6h-6zM205 369h6v6h-6zM223 369h5v6h-5zM234 369h6v6h-6zM252 369h5v6h-5zM263 369h6v6h-6zM275 369h5v6h-5zM107 375h6v6h-6zM147 375h6v6h-6zM159 375h17v6h-17zM217 375h6v6h-6zM228 375h12v6h-12zM252 375h11v6h-11zM136 381h6v6h-6zM147 381h18v6h-18zM228 381h12v6h-12zM246 381h6v6h-6zM257 381h18v6h-18zM142 387h5v5h-5zM153 387h6v5h-6zM165 387h17v5h-17zM194 387h5v5h-5zM234 387h23v5h-23zM263 387h6v5h-6zM147 392h12v6h-12zM171 392h5v6h-5zM223 392h11v6h-11zM240 392h6v6h-6zM257 392h18v6h-18zM176 398h6v6h-6zM228 398h6v6h-6zM240 398h6v6h-6zM252 398h11v6h-11zM269 398h6v6h-6zM136 404h11v6h-11zM153 404h12v6h-12zM176 404h12v6h-12zM194 404h5v6h-5zM228 404h12v6h-12zM246 404h11v6h-11zM136 410h6v5h-6zM165 410h17v5h-17zM228 410h6v5h-6zM240 410h6v5h-6zM252 410h17v5h-17zM246 415h6v6h-6z"/>
<path fill="#56ffa0" d="M153 196h6v6h-6zM234 196h6v6h-6zM252 196h5v6h-5zM263 196h6v6h-6zM286 196h6v6h-6zM113 202h6v5h-6zM130 202h6v5h-6zM142 202h5v5h-5zM165 202h6v5h-6zM188 202h11v5h-11zM252 202h5v5h-5zM119 207h5v6h-5zM147 207h6v6h-6zM176 207h23v6h-23zM205 207h6v6h-6zM246 207h6v6h-6zM153 213h6v6h-6zM188 213h6v6h-6zM286 213h6v6h-6zM113 219h6v6h-6zM142 219h5v6h-5zM165 219h6v6h-6zM188 219h6v6h-6zM199 219h6v6h-6zM217 219h6v6h-6zM234 219h6v6h-6zM252 219h5v6h-5zM113 225h6v5h-6zM130 225h6v5h-6zM159 225h6v5h-6zM182 225h6v5h-6zM194 225h5v5h-5zM217 225h6v5h-6zM228 225h6v5h-6zM252 225h5v5h-5zM113 230h11v6h-11zM171 230h5v6h-5zM211 230h12v6h-12zM228 230h12v6h-12zM286 230h6v6h-6zM124 236h6v6h-6zM136 236h6v6h-6zM176 236h6v6h-6zM199 236h6v6h-6zM286 236h6v6h-6zM124 242h6v6h-6zM136 242h6v6h-6zM147 242h6v6h-6zM159 242h17v6h-17zM188 242h11v6h-11zM211 242h12v6h-12zM228 242h29v6h-29zM275 242h17v6h-17zM113 248h6v6h-6zM130 248h6v6h-6zM194 248h11v6h-11zM246 248h6v6h-6zM280 248h6v6h-6zM194 254h5v5h-5zM217 254h6v5h-6zM246 254h6v5h-6zM286 254h6v5h-6zM136 259h6v6h-6zM176 259h6v6h-6zM205 259h6v6h-6zM246 259h6v6h-6zM113 265h6v6h-6zM130 265h6v6h-6zM165 265h6v6h-6zM211 265h12v6h-12zM107 271h6v6h-6zM130 271h6v6h-6zM217 271h6v6h-6zM228 271h6v6h-6zM286 271h6v6h-6zM119 277h5v5h-5zM194 277h11v5h-11zM211 277h6v5h-6zM286 277h6v5h-6zM165 282h6v6h-6zM228 282h6v6h-6zM240 282h6v6h-6zM142 288h5v6h-5zM171 288h5v6h-5zM217 288h6v6h-6zM228 288h6v6h-6zM269 288h6v6h-6zM113 294h6v6h-6zM153 294h6v6h-6zM182 294h6v6h-6zM205 294h6v6h-6zM228 294h6v6h-6zM286 294h6v6h-6zM113 300h6v6h-6zM194 300h5v6h-5zM263 300h17v6h-17zM119 306h5v5h-5zM153 306h6v5h-6zM165 306h6v5h-6zM188 306h17v5h-17zM234 306h6v5h-6zM286 306h6v5h-6zM119 311h5v6h-5zM147 311h6v6h-6zM159 311h6v6h-6zM171 311h5v6h-5zM252 311h5v6h-5zM130 317h6v6h-6zM147 317h6v6h-6zM194 317h11v6h-11zM217 317h6v6h-6zM257 317h6v6h-6zM275 317h5v6h-5zM119 323h5v6h-5zM176 323h6v6h-6zM217 323h6v6h-6zM252 323h17v6h-17zM286 323h6v6h-6zM130 329h6v6h-6zM142 329h11v6h-11zM188 329h6v6h-6zM199 329h18v6h-18zM223 329h5v6h-5zM240 329h6v6h-6zM257 329h6v6h-6zM188 335h6v5h-6zM252 335h11v5h-11zM130 340h6v6h-6zM153 340h6v6h-6zM165 340h6v6h-6zM182 340h12v6h-12zM124 346h6v6h-6zM136 346h6v6h-6zM205 346h6v6h-6zM223 346h11v6h-11zM252 346h5v6h-5zM136 352h6v6h-6zM147 352h6v6h-6zM199 352h6v6h-6zM217 352h6v6h-6zM228 352h6v6h-6zM286 352h6v6h-6zM119 358h5v5h-5zM130 358h6v5h-6zM147 358h6v5h-6zM165 358h6v5h-6zM182 358h6v5h-6zM171 363h5v6h-5zM205 363h6v6h-6zM234 363h6v6h-6zM130 369h12v6h-12zM165 369h11v6h-11zM199 369h6v6h-6zM269 369h6v6h-6zM130 375h6v6h-6zM142 375h5v6h-5zM223 375h5v6h-5zM275 375h5v6h-5zM286 375h6v6h-6zM107 381h6v6h-6zM130 381h6v6h-6zM199 381h6v6h-6zM223 381h5v6h-5zM130 387h6v5h-6zM147 387h6v5h-6zM199 387h6v5h-6zM257 387h6v5h-6zM269 387h6v5h-6zM165 392h6v6h-6zM153 398h6v6h-6zM107 404h6v6h-6zM147 404h6v6h-6zM165 404h6v6h-6zM217 404h11v6h-11zM240 404h6v6h-6zM257 404h23v6h-23zM142 410h5v5h-5zM153 410h6v5h-6zM199 410h6v5h-6zM211 410h17v5h-17zM234 410h6v5h-6zM269 410h6v5h-6zM182 415h6v6h-6zM199 415h6v6h-6zM234 415h12v6h-12zM252 415h11v6h-11zM136 421h6v7h-6zM153 421h6v7h-6zM234 421h6v7h-6zM286 421h6v7h-6z"/>
<path fill="#94ff63" d="M205 196h6v6h-6zM205 202h6v5h-6zM269 202h6v5h-6zM113 207h6v6h-6zM228 207h6v6h-6zM269 207h6v6h-6zM194 213h5v6h-5zM217 213h11v6h-11zM165 225h6v5h-6zM176 225h6v5h-6zM234 225h6v5h-6zM153 230h6v6h-6zM176 230h6v6h-6zM257 230h6v6h-6zM113 236h11v6h-11zM159 236h12v6h-12zM194 236h5v6h-5zM211 236h6v6h-6zM246 236h6v6h-6zM269 236h6v6h-6zM113 242h6v6h-6zM205 242h6v6h-6zM223 242h5v6h-5zM269 248h6v6h-6zM286 248h6v6h-6zM113 254h6v5h-6zM124 254h12v5h-12zM107 259h6v6h-6zM194 259h5v6h-5zM107 265h6v6h-6zM107 277h6v5h-6zM107 282h6v6h-6zM147 294h6v6h-6zM286 300h6v6h-6zM113 306h6v5h-6zM113 311h6v6h-6zM199 311h6v6h-6zM286 317h6v6h-6zM136 323h6v6h-6zM194 323h5v6h-5zM119 329h11v6h-11zM136 329h6v6h-6zM165 329h6v6h-6zM182 329h6v6h-6zM194 329h5v6h-5zM217 329h6v6h-6zM228 329h6v6h-6zM246 329h6v6h-6zM269 329h6v6h-6zM286 329h6v6h-6zM194 335h11v5h-11zM269 335h6v5h-6zM113 340h6v6h-6zM194 340h5v6h-5zM252 340h5v6h-5zM130 346h6v6h-6zM165 346h6v6h-6zM188 346h11v6h-11zM124 352h6v6h-6zM171 352h5v6h-5zM211 352h6v6h-6zM263 352h6v6h-6zM124 358h6v5h-6zM217 358h6v5h-6zM269 358h6v5h-6zM124 363h6v6h-6zM176 363h12v6h-12zM286 363h6v6h-6zM176 375h6v6h-6zM199 375h6v6h-6zM217 381h6v6h-6zM217 387h6v5h-6zM275 387h5v5h-5zM107 392h6v6h-6zM124 392h12v6h-12zM194 392h5v6h-5zM217 392h6v6h-6zM275 392h5v6h-5zM107 398h6v6h-6zM124 398h12v6h-12zM171 398h5v6h-5zM217 398h6v6h-6zM275 398h5v6h-5zM211 404h6v6h-6zM153 415h29v6h-29zM194 415h5v6h-5zM205 415h6v6h-6zM228 415h6v6h-6zM263 415h6v6h-6zM286 415h6v6h-6zM205 421h6v7h-6zM246 421h6v7h-6zM275 421h11v7h-11z"/>
<path fill="#00b0ff" d="M240 196h12v6h-12zM199 202h6v5h-6zM286 202h6v5h-6zM136 207h11v6h-11zM199 207h6v6h-6zM211 207h6v6h-6zM257 207h6v6h-6zM275 207h5v6h-5zM211 213h6v6h-6zM263 213h6v6h-6zM130 219h6v6h-6zM211 219h6v6h-6zM257 219h6v6h-6zM188 225h6v5h-6zM199 230h6v6h-6zM263 242h6v6h-6zM147 254h6v5h-6zM159 254h6v5h-6zM211 254h6v5h-6zM263 254h6v5h-6zM147 259h6v6h-6zM234 259h6v6h-6zM263 259h6v6h-6zM142 265h5v6h-5zM171 265h5v6h-5zM147 271h6v6h-6zM182 271h6v6h-6zM205 271h12v6h-12zM257 271h6v6h-6zM280 271h6v6h-6zM142 277h5v5h-5zM188 277h6v5h-6zM252 277h5v5h-5zM263 277h6v5h-6zM130 282h6v6h-6zM147 282h6v6h-6zM171 282h11v6h-11zM223 282h5v6h-5zM234 282h6v6h-6zM159 288h12v6h-12zM176 288h12v6h-12zM240 288h6v6h-6zM252 294h5v6h-5zM269 294h6v6h-6zM153 300h6v6h-6zM165 300h6v6h-6zM211 300h6v6h-6zM130 306h6v5h-6zM176 306h6v5h-6zM211 306h6v5h-6zM223 306h5v5h-5zM176 311h12v6h-12zM228 311h6v6h-6zM159 317h6v6h-6zM246 317h6v6h-6zM124 323h6v6h-6zM240 323h6v6h-6zM280 329h6v6h-6zM223 335h5v5h-5zM211 340h6v6h-6zM147 346h6v6h-6zM240 346h6v6h-6zM263 346h6v6h-6zM275 346h5v6h-5zM286 346h6v6h-6zM113 352h11v6h-11zM269 352h6v6h-6zM113 358h6v5h-6zM153 358h6v5h-6zM205 358h6v5h-6zM280 358h6v5h-6zM217 363h6v6h-6zM188 369h6v6h-6zM228 369h6v6h-6zM246 369h6v6h-6zM136 375h6v6h-6zM153 375h6v6h-6zM246 375h6v6h-6zM113 381h6v6h-6zM171 381h5v6h-5zM205 381h6v6h-6zM252 381h5v6h-5zM275 381h5v6h-5zM159 387h6v5h-6zM182 387h6v5h-6zM205 387h6v5h-6zM113 392h6v6h-6zM286 392h6v6h-6zM159 398h6v6h-6zM211 398h6v6h-6zM246 398h6v6h-6zM286 398h6v6h-6zM113 404h6v6h-6zM188 404h6v6h-6zM280 404h6v6h-6zM107 410h12v5h-12zM159 410h6v5h-6zM205 410h6v5h-6zM275 410h5v5h-5zM119 415h5v6h-5zM280 415h6v6h-6zM119 421h5v7h-5zM130 421h6v7h-6zM217 421h11v7h-11z"/>
<path fill="#5dff9a" d="M292 196h6v6h-6zM309 196h6v6h-6zM321 196h11v6h-11zM338 196h6v6h-6zM379 196h5v6h-5zM425 196h6v6h-6zM454 196h6v6h-6zM465 196h6v6h-6zM292 202h6v5h-6zM309 202h6v5h-6zM361 202h6v5h-6zM373 202h11v5h-11zM431 202h6v5h-6zM454 202h6v5h-6zM465 202h6v5h-6zM304 207h5v6h-5zM327 207h5v6h-5zM338 207h6v6h-6zM367 207h23v6h-23zM425 207h6v6h-6zM437 207h17v6h-17zM465 207h6v6h-6zM309 213h6v6h-6zM338 213h12v6h-12zM356 213h5v6h-5zM373 213h17v6h-17zM402 213h6v6h-6zM431 213h6v6h-6zM465 213h6v6h-6zM315 219h6v6h-6zM408 219h5v6h-5zM431 219h6v6h-6zM338 225h6v5h-6zM373 225h23v5h-23zM402 225h6v5h-6zM460 225h11v5h-11zM304 230h23v6h-23zM332 230h12v6h-12zM373 230h23v6h-23zM431 230h11v6h-11zM298 236h6v6h-6zM309 236h18v6h-18zM338 236h6v6h-6zM350 236h6v6h-6zM361 236h12v6h-12zM390 236h12v6h-12zM431 236h6v6h-6zM315 242h6v6h-6zM350 242h6v6h-6zM361 242h6v6h-6zM442 242h6v6h-6zM373 248h11v6h-11zM442 254h6v5h-6zM344 259h6v6h-6zM437 259h5v6h-5zM344 265h12v6h-12zM431 265h6v6h-6zM454 265h6v6h-6zM356 271h5v6h-5zM384 271h12v6h-12zM419 271h6v6h-6zM292 277h6v5h-6zM309 277h6v5h-6zM321 277h6v5h-6zM356 277h5v5h-5zM384 277h6v5h-6zM315 282h6v6h-6zM384 282h6v6h-6zM327 288h5v6h-5zM361 288h6v6h-6zM431 288h11v6h-11zM454 288h6v6h-6zM338 294h6v6h-6zM356 294h23v6h-23zM384 294h6v6h-6zM419 294h18v6h-18zM454 294h6v6h-6zM361 300h12v6h-12zM384 300h6v6h-6zM413 300h6v6h-6zM454 300h6v6h-6zM315 306h6v5h-6zM350 306h6v5h-6zM408 306h5v5h-5zM431 306h6v5h-6zM448 306h12v5h-12zM321 311h6v6h-6zM344 311h6v6h-6zM379 311h11v6h-11zM425 311h6v6h-6zM448 311h6v6h-6zM327 317h5v6h-5zM344 317h6v6h-6zM384 317h6v6h-6zM431 317h6v6h-6zM292 323h6v6h-6zM344 323h12v6h-12zM402 323h6v6h-6zM298 329h6v6h-6zM344 329h12v6h-12zM373 329h23v6h-23zM408 329h5v6h-5zM448 329h6v6h-6z"/>
<path fill="#36ffc1" d="M298 196h6v6h-6zM332 196h6v6h-6zM344 196h6v6h-6zM356 196h5v6h-5zM367 196h6v6h-6zM384 196h12v6h-12zM402 196h17v6h-17zM431 196h6v6h-6zM442 196h6v6h-6zM460 196h5v6h-5zM298 202h6v5h-6zM315 202h6v5h-6zM327 202h11v5h-11zM344 202h17v5h-17zM367 202h6v5h-6zM396 202h6v5h-6zM408 202h5v5h-5zM419 202h12v5h-12zM442 202h12v5h-12zM460 202h5v5h-5zM309 207h6v6h-6zM321 207h6v6h-6zM332 207h6v6h-6zM344 207h23v6h-23zM396 207h17v6h-17zM419 207h6v6h-6zM431 207h6v6h-6zM454 207h11v6h-11zM292 213h6v6h-6zM304 213h5v6h-5zM321 213h17v6h-17zM350 213h6v6h-6zM361 213h12v6h-12zM390 213h12v6h-12zM408 213h11v6h-11zM425 213h6v6h-6zM437 213h5v6h-5zM298 219h11v6h-11zM321 219h6v6h-6zM338 219h18v6h-18zM361 219h18v6h-18zM402 219h6v6h-6zM425 219h6v6h-6zM304 225h11v5h-11zM321 225h11v5h-11zM350 225h23v5h-23zM396 225h6v5h-6zM408 225h5v5h-5zM425 225h12v5h-12zM298 230h6v6h-6zM327 230h5v6h-5zM344 230h12v6h-12zM361 230h12v6h-12zM408 230h5v6h-5zM419 230h12v6h-12zM465 230h6v6h-6zM327 236h11v6h-11zM408 236h5v6h-5zM425 236h6v6h-6zM298 242h6v6h-6zM332 248h6v6h-6zM344 248h6v6h-6zM338 254h12v5h-12zM460 254h5v5h-5zM298 259h6v6h-6zM442 259h6v6h-6zM437 265h17v6h-17zM338 271h6v6h-6zM350 271h6v6h-6zM361 271h6v6h-6zM425 271h23v6h-23zM454 271h6v6h-6zM327 277h5v5h-5zM350 277h6v5h-6zM390 277h6v5h-6zM402 277h40v5h-40zM448 277h12v5h-12zM309 282h6v6h-6zM332 282h6v6h-6zM344 282h17v6h-17zM390 282h6v6h-6zM402 282h6v6h-6zM425 282h12v6h-12zM442 282h18v6h-18zM315 288h6v6h-6zM344 288h12v6h-12zM390 288h6v6h-6zM408 288h5v6h-5zM425 288h6v6h-6zM442 288h12v6h-12zM315 294h12v6h-12zM344 294h12v6h-12zM390 294h6v6h-6zM442 294h12v6h-12zM321 300h6v6h-6zM332 300h12v6h-12zM350 300h11v6h-11zM390 300h6v6h-6zM408 300h5v6h-5zM431 300h6v6h-6zM448 300h6v6h-6zM321 306h17v5h-17zM344 306h6v5h-6zM402 306h6v5h-6zM419 306h12v5h-12zM437 306h5v5h-5zM332 311h12v6h-12zM390 311h6v6h-6zM408 311h11v6h-11zM332 317h12v6h-12zM390 317h12v6h-12zM413 317h6v6h-6zM332 323h12v6h-12zM390 323h12v6h-12zM408 323h17v6h-17zM442 323h23v6h-23zM315 329h6v6h-6zM396 329h6v6h-6z"/>
<path fill="#0ff8e7" d="M304 196h5v6h-5zM315 196h6v6h-6zM350 196h6v6h-6zM361 196h6v6h-6zM396 196h6v6h-6zM437 196h5v6h-5zM448 196h6v6h-6zM304 202h5v5h-5zM390 202h6v5h-6zM413 202h6v5h-6zM437 202h5v5h-5zM298 207h6v6h-6zM315 207h6v6h-6zM390 207h6v6h-6zM413 207h6v6h-6zM315 213h6v6h-6zM309 219h6v6h-6zM332 219h6v6h-6zM356 219h5v6h-5zM384 219h6v6h-6zM298 225h6v5h-6zM315 225h6v5h-6zM332 225h6v5h-6zM344 225h6v5h-6zM419 225h6v5h-6zM396 230h12v6h-12zM413 236h12v6h-12zM338 248h6v6h-6zM373 259h6v6h-6zM298 265h6v6h-6zM332 265h12v6h-12zM379 265h5v6h-5zM332 271h6v6h-6zM448 271h6v6h-6zM315 277h6v5h-6zM321 282h11v6h-11zM396 282h6v6h-6zM408 282h17v6h-17zM437 282h5v6h-5zM292 288h6v6h-6zM309 288h6v6h-6zM321 288h6v6h-6zM367 288h6v6h-6zM396 288h12v6h-12zM413 288h12v6h-12zM332 294h6v6h-6zM396 294h17v6h-17zM327 300h5v6h-5zM344 300h6v6h-6zM402 300h6v6h-6zM425 300h6v6h-6zM437 300h11v6h-11zM292 306h6v5h-6zM338 306h6v5h-6zM396 306h6v5h-6zM413 306h6v5h-6zM292 311h6v6h-6zM327 311h5v6h-5zM396 311h6v6h-6zM419 311h6v6h-6zM460 311h5v6h-5zM379 317h5v6h-5zM402 317h11v6h-11zM304 323h5v6h-5zM379 323h5v6h-5zM327 329h5v6h-5z"/>
<path fill="#9aff5d" d="M373 196h6v6h-6zM384 202h6v5h-6zM402 202h6v5h-6zM471 202h7v5h-7zM292 207h6v6h-6zM292 219h6v6h-6zM379 219h5v6h-5zM390 219h6v6h-6zM454 219h17v6h-17zM292 225h6v5h-6zM437 225h5v5h-5zM471 225h7v5h-7zM292 230h6v6h-6zM304 236h5v6h-5zM344 236h6v6h-6zM356 236h5v6h-5zM373 236h11v6h-11zM402 236h6v6h-6zM309 242h6v6h-6zM321 242h6v6h-6zM390 242h6v6h-6zM431 242h6v6h-6zM431 254h6v5h-6zM448 254h6v5h-6zM332 259h6v6h-6zM384 259h6v6h-6zM431 259h6v6h-6zM448 259h12v6h-12zM356 265h5v6h-5zM384 265h12v6h-12zM396 271h6v6h-6zM379 282h5v6h-5zM384 288h6v6h-6zM460 288h5v6h-5zM379 294h5v6h-5zM437 294h5v6h-5zM460 294h5v6h-5zM315 300h6v6h-6zM373 306h6v5h-6zM384 306h6v5h-6zM373 311h6v6h-6zM431 311h11v6h-11zM419 317h6v6h-6zM448 317h6v6h-6zM384 323h6v6h-6zM465 323h6v6h-6zM332 329h6v6h-6zM402 329h6v6h-6zM454 329h17v6h-17z"/>
<path fill="#00b8ff" d="M419 196h6v6h-6zM338 202h6v5h-6zM298 213h6v6h-6zM419 213h6v6h-6zM327 219h5v6h-5zM413 219h12v6h-12zM413 225h6v5h-6zM356 230h5v6h-5zM413 230h6v6h-6zM367 248h6v6h-6zM402 248h6v6h-6zM292 259h6v6h-6zM338 259h6v6h-6zM356 259h5v6h-5zM471 259h7v6h-7zM361 265h12v6h-12zM344 271h6v6h-6zM379 271h5v6h-5zM298 277h6v5h-6zM332 277h18v5h-18zM442 277h6v5h-6zM338 282h6v6h-6zM367 282h6v6h-6zM465 282h6v6h-6zM298 288h6v6h-6zM332 288h12v6h-12zM356 288h5v6h-5zM373 288h11v6h-11zM465 288h6v6h-6zM298 294h6v6h-6zM309 294h6v6h-6zM327 294h5v6h-5zM413 294h6v6h-6zM298 300h6v6h-6zM396 300h6v6h-6zM419 300h6v6h-6zM390 306h6v5h-6zM298 311h6v6h-6zM402 311h6v6h-6zM321 317h6v6h-6zM321 323h6v6h-6zM292 329h6v6h-6zM425 329h6v6h-6z"/>
<path fill="#890000" d="M402 254h6v5h-6z"/>
<path fill="#c7ff30" d="M465 294h6v6h-6z"/>
<path fill="#9dff5a" d="M292 335h12v5h-12zM309 335h6v5h-6zM327 335h5v5h-5zM344 335h6v5h-6zM356 335h5v5h-5zM367 335h12v5h-12zM402 335h6v5h-6zM460 335h5v5h-5zM298 340h6v6h-6zM379 340h5v6h-5zM379 346h5v6h-5zM454 346h6v6h-6zM425 352h6v6h-6zM471 358h7v5h-7zM402 363h6v6h-6zM309 369h6v6h-6zM373 369h11v6h-11zM304 375h5v6h-5zM471 375h7v6h-7zM471 381h7v6h-7zM454 387h6v5h-6zM298 392h6v6h-6zM425 392h6v6h-6zM454 392h6v6h-6zM465 392h13v6h-13zM425 398h6v6h-6zM332 404h6v6h-6zM431 404h6v6h-6zM465 404h6v6h-6zM367 410h6v5h-6zM292 415h6v6h-6zM309 415h6v6h-6zM327 415h5v6h-5zM361 415h6v6h-6zM471 415h7v6h-7zM384 421h6v7h-6zM402 421h6v7h-6zM413 421h12v7h-12zM465 421h13v7h-13z"/>
<path fill="#63ff94" d="M304 335h5v5h-5zM321 335h6v5h-6zM332 335h12v5h-12zM350 335h6v5h-6zM361 335h6v5h-6zM390 335h6v5h-6zM419 335h6v5h-6zM437 335h5v5h-5zM454 335h6v5h-6zM465 335h13v5h-13zM292 340h6v6h-6zM332 340h12v6h-12zM356 340h5v6h-5zM367 340h12v6h-12zM396 340h6v6h-6zM425 340h12v6h-12zM460 340h18v6h-18zM304 346h11v6h-11zM327 346h5v6h-5zM338 346h6v6h-6zM373 346h6v6h-6zM390 346h6v6h-6zM465 346h13v6h-13zM304 352h5v6h-5zM315 352h6v6h-6zM338 352h6v6h-6zM361 352h6v6h-6zM373 352h6v6h-6zM390 352h6v6h-6zM431 352h6v6h-6zM454 352h6v6h-6zM465 352h13v6h-13zM309 358h6v5h-6zM321 358h6v5h-6zM344 358h6v5h-6zM367 358h17v5h-17zM425 358h6v5h-6zM465 358h6v5h-6zM304 363h5v6h-5zM315 363h12v6h-12zM332 363h6v6h-6zM344 363h6v6h-6zM361 363h6v6h-6zM373 363h11v6h-11zM408 363h29v6h-29zM465 363h13v6h-13zM304 369h5v6h-5zM332 369h6v6h-6zM344 369h6v6h-6zM361 369h12v6h-12zM471 369h7v6h-7zM309 375h6v6h-6zM332 375h18v6h-18zM361 375h6v6h-6zM379 375h5v6h-5zM298 381h6v6h-6zM321 381h6v6h-6zM332 381h6v6h-6zM344 381h6v6h-6zM373 381h11v6h-11zM465 381h6v6h-6zM298 387h6v5h-6zM321 387h6v5h-6zM338 387h12v5h-12zM361 387h6v5h-6zM379 387h5v5h-5zM465 387h13v5h-13zM309 392h6v6h-6zM321 392h6v6h-6zM332 392h6v6h-6zM344 392h6v6h-6zM379 392h5v6h-5zM402 392h6v6h-6zM292 398h12v6h-12zM338 398h6v6h-6zM379 398h5v6h-5zM408 398h5v6h-5zM471 398h7v6h-7zM292 404h6v6h-6zM344 404h6v6h-6zM367 404h17v6h-17zM402 404h6v6h-6zM471 404h7v6h-7zM292 410h6v5h-6zM315 410h6v5h-6zM327 410h5v5h-5zM338 410h12v5h-12zM361 410h6v5h-6zM396 410h6v5h-6zM425 410h6v5h-6zM448 410h6v5h-6zM471 410h7v5h-7zM298 415h11v6h-11zM321 415h6v6h-6zM338 415h23v6h-23zM373 415h6v6h-6zM402 415h6v6h-6zM425 415h6v6h-6zM437 415h5v6h-5zM448 415h6v6h-6zM390 421h12v7h-12zM408 421h5v7h-5z"/>
<path fill="#39ffbe" d="M384 335h6v5h-6zM408 335h11v5h-11zM304 340h5v6h-5zM315 340h17v6h-17zM344 340h12v6h-12zM361 340h6v6h-6zM384 340h6v6h-6zM419 340h6v6h-6zM448 340h12v6h-12zM298 346h6v6h-6zM315 346h12v6h-12zM344 346h6v6h-6zM356 346h5v6h-5zM367 346h6v6h-6zM384 346h6v6h-6zM396 346h6v6h-6zM413 346h6v6h-6zM425 346h12v6h-12zM309 352h6v6h-6zM327 352h11v6h-11zM344 352h6v6h-6zM356 352h5v6h-5zM304 358h5v5h-5zM327 358h5v5h-5zM350 358h17v5h-17zM454 358h11v5h-11zM309 363h6v6h-6zM327 363h5v6h-5zM338 363h6v6h-6zM356 363h5v6h-5zM367 363h6v6h-6zM396 363h6v6h-6zM437 363h5v6h-5zM448 363h17v6h-17zM315 369h6v6h-6zM327 369h5v6h-5zM338 369h6v6h-6zM356 369h5v6h-5zM408 369h17v6h-17zM431 369h17v6h-17zM460 369h11v6h-11zM315 375h12v6h-12zM356 375h5v6h-5zM367 375h12v6h-12zM396 375h17v6h-17zM419 375h6v6h-6zM431 375h11v6h-11zM454 375h17v6h-17zM304 381h17v6h-17zM327 381h5v6h-5zM356 381h17v6h-17zM396 381h6v6h-6zM413 381h29v6h-29zM460 381h5v6h-5zM304 387h5v5h-5zM315 387h6v5h-6zM327 387h11v5h-11zM350 387h6v5h-6zM367 387h12v5h-12zM390 387h12v5h-12zM408 387h17v5h-17zM437 387h17v5h-17zM304 392h5v6h-5zM315 392h6v6h-6zM327 392h5v6h-5zM338 392h6v6h-6zM356 392h11v6h-11zM373 392h6v6h-6zM396 392h6v6h-6zM408 392h11v6h-11zM442 392h6v6h-6zM315 398h23v6h-23zM344 398h6v6h-6zM356 398h11v6h-11zM373 398h6v6h-6zM396 398h12v6h-12zM419 398h6v6h-6zM431 398h6v6h-6zM304 404h5v6h-5zM321 404h11v6h-11zM338 404h6v6h-6zM350 404h17v6h-17zM384 404h12v6h-12zM413 404h12v6h-12zM304 410h11v5h-11zM321 410h6v5h-6zM332 410h6v5h-6zM350 410h11v5h-11zM373 410h6v5h-6zM384 410h12v5h-12zM408 410h17v5h-17zM315 415h6v6h-6zM332 415h6v6h-6zM367 415h6v6h-6zM384 415h18v6h-18zM408 415h5v6h-5zM419 415h6v6h-6zM344 421h6v7h-6zM448 421h6v7h-6z"/>
<path fill="#16ffe1" d="M396 335h6v5h-6zM425 335h6v5h-6zM309 340h6v6h-6zM390 340h6v6h-6zM350 346h6v6h-6zM361 346h6v6h-6zM460 346h5v6h-5zM298 352h6v6h-6zM321 352h6v6h-6zM350 352h6v6h-6zM298 358h6v5h-6zM332 358h12v5h-12zM384 358h6v5h-6zM442 358h6v5h-6zM350 363h6v6h-6zM384 363h6v6h-6zM442 363h6v6h-6zM321 369h6v6h-6zM350 369h6v6h-6zM384 369h12v6h-12zM402 369h6v6h-6zM425 369h6v6h-6zM454 369h6v6h-6zM390 375h6v6h-6zM413 375h6v6h-6zM425 375h6v6h-6zM448 375h6v6h-6zM338 381h6v6h-6zM384 381h12v6h-12zM402 381h11v6h-11zM442 381h18v6h-18zM309 387h6v5h-6zM356 387h5v5h-5zM384 387h6v5h-6zM402 387h6v5h-6zM425 387h6v5h-6zM292 392h6v6h-6zM350 392h6v6h-6zM367 392h6v6h-6zM384 392h12v6h-12zM419 392h6v6h-6zM431 392h6v6h-6zM304 398h11v6h-11zM384 398h6v6h-6zM413 398h6v6h-6zM298 404h6v6h-6zM309 404h6v6h-6zM396 404h6v6h-6zM408 404h5v6h-5zM425 404h6v6h-6zM298 410h6v5h-6zM402 410h6v5h-6zM413 415h6v6h-6zM431 421h6v7h-6z"/>
<path fill="#00bcff" d="M332 346h6v6h-6zM437 346h11v6h-11zM315 358h6v5h-6zM298 363h6v6h-6zM390 363h6v6h-6zM448 369h6v6h-6zM298 375h6v6h-6zM327 375h5v6h-5zM350 375h6v6h-6zM384 375h6v6h-6zM442 375h6v6h-6zM350 381h6v6h-6zM431 387h6v5h-6zM350 398h6v6h-6zM367 398h6v6h-6zM390 398h6v6h-6zM315 404h6v6h-6z"/>
</g>
<rect x="107.5" y="58.5" width="370" height="369" fill="none" stroke="#000" stroke-width="1.11"/>
<g>
<rect x="501.6" y="74" width="16.80" height="1.02" fill="#800000"/>
<rect x="501.6" y="75" width="16.80" height="1.02" fill="#800000"/>
<rect x="501.6" y="76" width="16.80" height="1.02" fill="#840000"/>
<rect x="501.6" y="77" width="16.80" height="1.02" fill="#890000"/>
<rect x="501.6" y="78" width="16.80" height="1.02" fill="#8d0000"/>
<rect x="501.6" y="79" width="16.80" height="1.02" fill="#8d0000"/>
<rect x="501.6" y="80" width="16.80" height="1.02" fill="#920000"/>
<rect x="501.6" y="81" width="16.80" height="1.02" fill="#960000"/>
<rect x="501.6" y="82" width="16.80" height="1.02" fill="#9b0000"/>
<rect x="501.6" y="83" width="16.80" height="1.02" fill="#9b0000"/>
<rect x="501.6" y="84" width="16.80" height="1.02" fill="#9f0000"/>
<rect x="501.6" y="85" width="16.80" height="1.02" fill="#a40000"/>
<rect x="501.6" y="86" width="16.80" height="1.02" fill="#a80000"/>
<rect x="501.6" y="87" width="16.80" height="1.02" fill="#a80000"/>
<rect x="501.6" y="88" width="16.80" height="1.02" fill="#ad0000"/>
<rect x="501.6" y="89" width="16.80" height="1.02" fill="#b20000"/>
<rect x="501.6" y="90" width="16.80" height="1.02" fill="#b60000"/>
<rect x="501.6" y="91" width="16.80" height="1.02" fill="#bb0000"/>
<rect x="501.6" y="92" width="16.80" height="1.02" fill="#bb0000"/>
<rect x="501.6" y="93" width="16.80" height="1.02" fill="#bf0000"/>
<rect x="501.6" y="94" width="16.80" height="1.02" fill="#c40000"/>
<rect x="501.6" y="95" width="16.80" height="1.02" fill="#c80000"/>
<rect x="501.6" y="96" width="16.80" height="1.02" fill="#c80000"/>
<rect x="501.6" y="97" width="16.80" height="1.02" fill="#cd0000"/>
<rect x="501.6" y="98" width="16.80" height="1.02" fill="#d10000"/>
<rect x="501.6" y="99" width="16.80" height="1.02" fill="#d60000"/>
<rect x="501.6" y="100" width="16.80" height="1.02" fill="#d60000"/>
<rect x="501.6" y="101" width="16.80" height="1.02" fill="#da0000"/>
<rect x="501.6" y="102" width="16.80" height="1.02" fill="#df0000"/>
<rect x="501.6" y="103" width="16.80" height="1.02" fill="#e40000"/>
<rect x="501.6" y="104" width="16.80" height="1.02" fill="#e40000"/>
<rect x="501.6" y="105" width="16.80" height="1.02" fill="#e80000"/>
<rect x="501.6" y="106" width="16.80" height="1.02" fill="#ed0400"/>
<rect x="501.6" y="107" width="16.80" height="1.02" fill="#f10800"/>
<rect x="501.6" y="108" width="16.80" height="1.02" fill="#f10800"/>
<rect x="501.6" y="109" width="16.80" height="1.02" fill="#f60b00"/>
<rect x="501.6" y="110" width="16.80" height="1.02" fill="#fa0f00"/>
<rect x="501.6" y="111" width="16.80" height="1.02" fill="#ff1300"/>
<rect x="501.6" y="112" width="16.80" height="1.02" fill="#ff1600"/>
<rect x="501.6" y="113" width="16.80" height="1.02" fill="#ff1600"/>
<rect x="501.6" y="114" width="16.80" height="1.02" fill="#ff1a00"/>
<rect x="501.6" y="115" width="16.80" height="1.02" fill="#ff1e00"/>
<rect x="501.6" y="116" width="16.80" height="1.02" fill="#ff2200"/>
<rect x="501.6" y="117" width="16.80" height="1.02" fill="#ff2200"/>
<rect x="501.6" y="118" width="16.80" height="1.02" fill="#ff2500"/>
<rect x="501.6" y="119" width="16.80" height="1.02" fill="#ff2900"/>
<rect x="501.6" y="120" width="16.80" height="1.02" fill="#ff2d00"/>
<rect x="501.6" y="121" width="16.80" height="1.02" fill="#ff2d00"/>
<rect x="501.6" y="122" width="16.80" height="1.02" fill="#ff3000"/>
<rect x="501.6" y="123" width="16.80" height="1.02" fill="#ff3400"/>
<rect x="501.6" y="124" width="16.80" height="1.02" fill="#ff3800"/>
<rect x="501.6" y="125" width="16.80" height="1.02" fill="#ff3800"/>
<rect x="501.6" y="126" width="16.80" height="1.02" fill="#ff3b00"/>
<rect x="501.6" y="127" width="16.80" height="1.02" fill="#ff3f00"/>
<rect x="501.6" y="128" width="16.80" height="1.02" fill="#ff4300"/>
<rect x="501.6" y="129" width="16.80" height="1.02" fill="#ff4300"/>
<rect x="501.6" y="130" width="16.80" height="1.02" fill="#ff4700"/>
<rect x="501.6" y="131" width="16.80" height="1.02" fill="#ff4a00"/>
<rect x="501.6" y="132" width="16.80" height="1.02" fill="#ff4e00"/>
<rect x="501.6" y="133" width="16.80" height="1.02" fill="#ff5200"/>
<rect x="501.6" y="134" width="16.80" height="1.02" fill="#ff5200"/>
<rect x="501.6" y="135" width="16.80" height="1.02" fill="#ff5500"/>
<rect x="501.6" y="136" width="16.80" height="1.02" fill="#ff5900"/>
<rect x="501.6" y="137" width="16.80" height="1.02" fill="#ff5d00"/>
<rect x="501.6" y="138" width="16.80" height="1.02" fill="#ff5d00"/>
<rect x="501.6" y="139" width="16.80" height="1.02" fill="#ff6000"/>
<rect x="501.6" y="140" width="16.80" height="1.02" fill="#ff6400"/>
<rect x="501.6" y="141" width="16.80" height="1.02" fill="#ff6800"/>
<rect x="501.6" y="142" width="16.80" height="1.02" fill="#ff6800"/>
<rect x="501.6" y="143" width="16.80" height="1.02" fill="#ff6c00"/>
<rect x="501.6" y="144" width="16.80" height="1.02" fill="#ff6f00"/>
<rect x="501.6" y="145" width="16.80" height="1.02" fill="#ff7300"/>
<rect x="501.6" y="146" width="16.80" height="1.02" fill="#ff7300"/>
<rect x="501.6" y="147" width="16.80" height="1.02" fill="#ff7700"/>
<rect x="501.6" y="148" width="16.80" height="1.02" fill="#ff7a00"/>
<rect x="501.6" y="149" width="16.80" height="1.02" fill="#ff7e00"/>
<rect x="501.6" y="150" width="16.80" height="1.02" fill="#ff7e00"/>
<rect x="501.6" y="151" width="16.80" height="1.02" fill="#ff8200"/>
<rect x="501.6" y="152" width="16.80" height="1.02" fill="#ff8600"/>
<rect x="501.6" y="153" width="16.80" height="1.02" fill="#ff8900"/>
<rect x="501.6" y="154" width="16.80" height="1.02" fill="#ff8d00"/>
<rect x="501.6" y="155" width="16.80" height="1.02" fill="#ff8d00"/>
<rect x="501.6" y="156" width="16.80" height="1.02" fill="#ff9100"/>
<rect x="501.6" y="157" width="16.80" height="1.02" fill="#ff9400"/>
<rect x="501.6" y="158" width="16.80" height="1.02" fill="#ff9800"/>
<rect x="501.6" y="159" width="16.80" height="1.02" fill="#ff9800"/>
<rect x="501.6" y="160" width="16.80" height="1.02" fill="#ff9c00"/>
<rect x="501.6" y="161" width="16.80" height="1.02" fill="#ff9f00"/>
<rect x="501.6" y="162" width="16.80" height="1.02" fill="#ffa300"/>
<rect x="501.6" y="163" width="16.80" height="1.02" fill="#ffa300"/>
<rect x="501.6" y="164" width="16.80" height="1.02" fill="#ffa700"/>
<rect x="501.6" y="165" width="16.80" height="1.02" fill="#ffab00"/>
<rect x="501.6" y="166" width="16.80" height="1.02" fill="#ffae00"/>
<rect x="501.6" y="167" width="16.80" height="1.02" fill="#ffae00"/>
<rect x="501.6" y="168" width="16.80" height="1.02" fill="#ffb200"/>
<rect x="501.6" y="169" width="16.80" height="1.02" fill="#ffb600"/>
<rect x="501.6" y="170" width="16.80" height="1.02" fill="#ffb900"/>
<rect x="501.6" y="171" width="16.80" height="1.02" fill="#ffb900"/>
<rect x="501.6" y="172" width="16.80" height="1.02" fill="#ffbd00"/>
<rect x="501.6" y="173" width="16.80" height="1.02" fill="#ffc100"/>
<rect x="501.6" y="174" width="16.80" height="1.02" fill="#ffc400"/>
<rect x="501.6" y="175" width="16.80" height="1.02" fill="#ffc800"/>
<rect x="501.6" y="176" width="16.80" height="1.02" fill="#ffc800"/>
<rect x="501.6" y="177" width="16.80" height="1.02" fill="#ffcc00"/>
<rect x="501.6" y="178" width="16.80" height="1.02" fill="#ffd000"/>
<rect x="501.6" y="179" width="16.80" height="1.02" fill="#ffd300"/>
<rect x="501.6" y="180" width="16.80" height="1.02" fill="#ffd300"/>
<rect x="501.6" y="181" width="16.80" height="1.02" fill="#ffd700"/>
<rect x="501.6" y="182" width="16.80" height="1.02" fill="#ffdb00"/>
<rect x="501.6" y="183" width="16.80" height="1.02" fill="#ffde00"/>
<rect x="501.6" y="184" width="16.80" height="1.02" fill="#ffde00"/>
<rect x="501.6" y="185" width="16.80" height="1.02" fill="#ffe200"/>
<rect x="501.6" y="186" width="16.80" height="1.02" fill="#ffe600"/>
<rect x="501.6" y="187" width="16.80" height="1.02" fill="#ffea00"/>
<rect x="501.6" y="188" width="16.80" height="1.02" fill="#ffea00"/>
<rect x="501.6" y="189" width="16.80" height="1.02" fill="#feed00"/>
<rect x="501.6" y="190" width="16.80" height="1.02" fill="#fbf100"/>
<rect x="501.6" y="191" width="16.80" height="1.02" fill="#f8f500"/>
<rect x="501.6" y="192" width="16.80" height="1.02" fill="#f8f500"/>
<rect x="501.6" y="193" width="16.80" height="1.02" fill="#f4f802"/>
<rect x="501.6" y="194" width="16.80" height="1.02" fill="#f1fc06"/>
<rect x="501.6" y="195" width="16.80" height="1.02" fill="#eeff09"/>
<rect x="501.6" y="196" width="16.80" height="1.02" fill="#ebff0c"/>
<rect x="501.6" y="197" width="16.80" height="1.02" fill="#ebff0c"/>
<rect x="501.6" y="198" width="16.80" height="1.02" fill="#e7ff0f"/>
<rect x="501.6" y="199" width="16.80" height="1.02" fill="#e4ff13"/>
<rect x="501.6" y="200" width="16.80" height="1.02" fill="#e1ff16"/>
<rect x="501.6" y="201" width="16.80" height="1.02" fill="#e1ff16"/>
<rect x="501.6" y="202" width="16.80" height="1.02" fill="#deff19"/>
<rect x="501.6" y="203" width="16.80" height="1.02" fill="#dbff1c"/>
<rect x="501.6" y="204" width="16.80" height="1.02" fill="#d7ff1f"/>
<rect x="501.6" y="205" width="16.80" height="1.02" fill="#d7ff1f"/>
<rect x="501.6" y="206" width="16.80" height="1.02" fill="#d4ff23"/>
<rect x="501.6" y="207" width="16.80" height="1.02" fill="#d1ff26"/>
<rect x="501.6" y="208" width="16.80" height="1.02" fill="#ceff29"/>
<rect x="501.6" y="209" width="16.80" height="1.02" fill="#ceff29"/>
<rect x="501.6" y="210" width="16.80" height="1.02" fill="#caff2c"/>
<rect x="501.6" y="211" width="16.80" height="1.02" fill="#c7ff30"/>
<rect x="501.6" y="212" width="16.80" height="1.02" fill="#c4ff33"/>
<rect x="501.6" y="213" width="16.80" height="1.02" fill="#c4ff33"/>
<rect x="501.6" y="214" width="16.80" height="1.02" fill="#c1ff36"/>
<rect x="501.6" y="215" width="16.80" height="1.02" fill="#beff39"/>
<rect x="501.6" y="216" width="16.80" height="1.02" fill="#baff3c"/>
<rect x="501.6" y="217" width="16.80" height="1.02" fill="#b7ff40"/>
<rect x="501.6" y="218" width="16.80" height="1.02" fill="#b7ff40"/>
<rect x="501.6" y="219" width="16.80" height="1.02" fill="#b4ff43"/>
<rect x="501.6" y="220" width="16.80" height="1.02" fill="#b1ff46"/>
<rect x="501.6" y="221" width="16.80" height="1.02" fill="#adff49"/>
<rect x="501.6" y="222" width="16.80" height="1.02" fill="#adff49"/>
<rect x="501.6" y="223" width="16.80" height="1.02" fill="#aaff4d"/>
<rect x="501.6" y="224" width="16.80" height="1.02" fill="#a7ff50"/>
<rect x="501.6" y="225" width="16.80" height="1.02" fill="#a4ff53"/>
<rect x="501.6" y="226" width="16.80" height="1.02" fill="#a4ff53"/>
<rect x="501.6" y="227" width="16.80" height="1.02" fill="#a0ff56"/>
<rect x="501.6" y="228" width="16.80" height="1.02" fill="#9dff5a"/>
<rect x="501.6" y="229" width="16.80" height="1.02" fill="#9aff5d"/>
<rect x="501.6" y="230" width="16.80" height="1.02" fill="#9aff5d"/>
<rect x="501.6" y="231" width="16.80" height="1.02" fill="#97ff60"/>
<rect x="501.6" y="232" width="16.80" height="1.02" fill="#94ff63"/>
<rect x="501.6" y="233" width="16.80" height="1.02" fill="#90ff66"/>
<rect x="501.6" y="234" width="16.80" height="1.02" fill="#90ff66"/>
<rect x="501.6" y="235" width="16.80" height="1.02" fill="#8dff6a"/>
<rect x="501.6" y="236" width="16.80" height="1.02" fill="#8aff6d"/>
<rect x="501.6" y="237" width="16.80" height="1.02" fill="#87ff70"/>
<rect x="501.6" y="238" width="16.80" height="1.02" fill="#83ff73"/>
<rect x="501.6" y="239" width="16.80" height="1.02" fill="#83ff73"/>
<rect x="501.6" y="240" width="16.80" height="1.02" fill="#80ff77"/>
<rect x="501.6" y="241" width="16.80" height="1.02" fill="#7dff7a"/>
<rect x="501.6" y="242" width="16.80" height="1.02" fill="#7aff7d"/>
<rect x="501.6" y="243" width="16.80" height="1.02" fill="#7aff7d"/>
<rect x="501.6" y="244" width="16.80" height="1.02" fill="#77ff80"/>
<rect x="501.6" y="245" width="16.80" height="1.02" fill="#73ff83"/>
<rect x="501.6" y="246" width="16.80" height="1.02" fill="#70ff87"/>
<rect x="501.6" y="247" width="16.80" height="1.02" fill="#70ff87"/>
<rect x="501.6" y="248" width="16.80" height="1.02" fill="#6dff8a"/>
<rect x="501.6" y="249" width="16.80" height="1.02" fill="#6aff8d"/>
<rect x="501.6" y="250" width="16.80" height="1.02" fill="#66ff90"/>
<rect x="501.6" y="251" width="16.80" height="1.02" fill="#66ff90"/>
<rect x="501.6" y="252" width="16.80" height="1.02" fill="#63ff94"/>
<rect x="501.6" y="253" width="16.80" height="1.02" fill="#60ff97"/>
<rect x="501.6" y="254" width="16.80" height="1.02" fill="#5dff9a"/>
<rect x="501.6" y="255" width="16.80" height="1.02" fill="#5dff9a"/>
<rect x="501.6" y="256" width="16.80" height="1.02" fill="#5aff9d"/>
<rect x="501.6" y="257" width="16.80" height="1.02" fill="#56ffa0"/>
<rect x="501.6" y="258" width="16.80" height="1.02" fill="#53ffa4"/>
<rect x="501.6" y="259" width="16.80" height="1.02" fill="#50ffa7"/>
<rect x="501.6" y="260" width="16.80" height="1.02" fill="#50ffa7"/>
<rect x="501.6" y="261" width="16.80" height="1.02" fill="#4dffaa"/>
<rect x="501.6" y="262" width="16.80" height="1.02" fill="#49ffad"/>
<rect x="501.6" y="263" width="16.80" height="1.02" fill="#46ffb1"/>
<rect x="501.6" y="264" width="16.80" height="1.02" fill="#46ffb1"/>
<rect x="501.6" y="265" width="16.80" height="1.02" fill="#43ffb4"/>
<rect x="501.6" y="266" width="16.80" height="1.02" fill="#40ffb7"/>
<rect x="501.6" y="267" width="16.80" height="1.02" fill="#3cffba"/>
<rect x="501.6" y="268" width="16.80" height="1.02" fill="#3cffba"/>
<rect x="501.6" y="269" width="16.80" height="1.02" fill="#39ffbe"/>
<rect x="501.6" y="270" width="16.80" height="1.02" fill="#36ffc1"/>
<rect x="501.6" y="271" width="16.80" height="1.02" fill="#33ffc4"/>
<rect x="501.6" y="272" width="16.80" height="1.02" fill="#33ffc4"/>
<rect x="501.6" y="273" width="16.80" height="1.02" fill="#30ffc7"/>
<rect x="501.6" y="274" width="16.80" height="1.02" fill="#2cffca"/>
<rect x="501.6" y="275" width="16.80" height="1.02" fill="#29ffce"/>
<rect x="501.6" y="276" width="16.80" height="1.02" fill="#29ffce"/>
<rect x="501.6" y="277" width="16.80" height="1.02" fill="#26ffd1"/>
<rect x="501.6" y="278" width="16.80" height="1.02" fill="#23ffd4"/>
<rect x="501.6" y="279" width="16.80" height="1.02" fill="#1fffd7"/>
<rect x="501.6" y="280" width="16.80" height="1.02" fill="#1cffdb"/>
<rect x="501.6" y="281" width="16.80" height="1.02" fill="#1cffdb"/>
<rect x="501.6" y="282" width="16.80" height="1.02" fill="#19ffde"/>
<rect x="501.6" y="283" width="16.80" height="1.02" fill="#16ffe1"/>
<rect x="501.6" y="284" width="16.80" height="1.02" fill="#13fce4"/>
<rect x="501.6" y="285" width="16.80" height="1.02" fill="#13fce4"/>
<rect x="501.6" y="286" width="16.80" height="1.02" fill="#0ff8e7"/>
<rect x="501.6" y="287" width="16.80" height="1.02" fill="#0cf4eb"/>
<rect x="501.6" y="288" width="16.80" height="1.02" fill="#09f0ee"/>
<rect x="501.6" y="289" width="16.80" height="1.02" fill="#09f0ee"/>
<rect x="501.6" y="290" width="16.80" height="1.02" fill="#06ecf1"/>
<rect x="501.6" y="291" width="16.80" height="1.02" fill="#02e8f4"/>
<rect x="501.6" y="292" width="16.80" height="1.02" fill="#00e4f8"/>
<rect x="501.6" y="293" width="16.80" height="1.02" fill="#00e4f8"/>
<rect x="501.6" y="294" width="16.80" height="1.02" fill="#00e0fb"/>
<rect x="501.6" y="295" width="16.80" height="1.02" fill="#00dcfe"/>
<rect x="501.6" y="296" width="16.80" height="1.02" fill="#00d8ff"/>
<rect x="501.6" y="297" width="16.80" height="1.02" fill="#00d8ff"/>
<rect x="501.6" y="298" width="16.80" height="1.02" fill="#00d4ff"/>
<rect x="501.6" y="299" width="16.80" height="1.02" fill="#00d0ff"/>
<rect x="501.6" y="300" width="16.80" height="1.02" fill="#00ccff"/>
<rect x="501.6" y="301" width="16.80" height="1.02" fill="#00c8ff"/>
<rect x="501.6" y="302" width="16.80" height="1.02" fill="#00c8ff"/>
<rect x="501.6" y="303" width="16.80" height="1.02" fill="#00c4ff"/>
<rect x="501.6" y="304" width="16.80" height="1.02" fill="#00c0ff"/>
<rect x="501.6" y="305" width="16.80" height="1.02" fill="#00bcff"/>
<rect x="501.6" y="306" width="16.80" height="1.02" fill="#00bcff"/>
<rect x="501.6" y="307" width="16.80" height="1.02" fill="#00b8ff"/>
<rect x="501.6" y="308" width="16.80" height="1.02" fill="#00b4ff"/>
<rect x="501.6" y="309" width="16.80" height="1.02" fill="#00b0ff"/>
<rect x="501.6" y="310" width="16.80" height="1.02" fill="#00b0ff"/>
<rect x="501.6" y="311" width="16.80" height="1.02" fill="#00acff"/>
<rect x="501.6" y="312" width="16.80" height="1.02" fill="#00a8ff"/>
<rect x="501.6" y="313" width="16.80" height="1.02" fill="#00a4ff"/>
<rect x="501.6" y="314" width="16.80" height="1.02" fill="#00a4ff"/>
<rect x="501.6" y="315" width="16.80" height="1.02" fill="#00a0ff"/>
<rect x="501.6" y="316" width="16.80" height="1.02" fill="#009cff"/>
<rect x="501.6" y="317" width="16.80" height="1.02" fill="#0098ff"/>
<rect x="501.6" y="318" width="16.80" height="1.02" fill="#0098ff"/>
<rect x="501.6" y="319" width="16.80" height="1.02" fill="#0094ff"/>
<rect x="501.6" y="320" width="16.80" height="1.02" fill="#0090ff"/>
<rect x="501.6" y="321" width="16.80" height="1.02" fill="#008cff"/>
<rect x="501.6" y="322" width="16.80" height="1.02" fill="#0088ff"/>
<rect x="501.6" y="323" width="16.80" height="1.02" fill="#0088ff"/>
<rect x="501.6" y="324" width="16.80" height="1.02" fill="#0084ff"/>
<rect x="501.6" y="325" width="16.80" height="1.02" fill="#0080ff"/>
<rect x="501.6" y="326" width="16.80" height="1.02" fill="#007cff"/>
<rect x="501.6" y="327" width="16.80" height="1.02" fill="#007cff"/>
<rect x="501.6" y="328" width="16.80" height="1.02" fill="#0078ff"/>
<rect x="501.6" y="329" width="16.80" height="1.02" fill="#0074ff"/>
<rect x="501.6" y="330" width="16.80" height="1.02" fill="#0070ff"/>
<rect x="501.6" y="331" width="16.80" height="1.02" fill="#0070ff"/>
<rect x="501.6" y="332" width="16.80" height="1.02" fill="#006cff"/>
<rect x="501.6" y="333" width="16.80" height="1.02" fill="#0068ff"/>
<rect x="501.6" y="334" width="16.80" height="1.02" fill="#0064ff"/>
<rect x="501.6" y="335" width="16.80" height="1.02" fill="#0064ff"/>
<rect x="501.6" y="336" width="16.80" height="1.02" fill="#0060ff"/>
<rect x="501.6" y="337" width="16.80" height="1.02" fill="#005cff"/>
<rect x="501.6" y="338" width="16.80" height="1.02" fill="#0058ff"/>
<rect x="501.6" y="339" width="16.80" height="1.02" fill="#0058ff"/>
<rect x="501.6" y="340" width="16.80" height="1.02" fill="#0054ff"/>
<rect x="501.6" y="341" width="16.80" height="1.02" fill="#0050ff"/>
<rect x="501.6" y="342" width="16.80" height="1.02" fill="#004cff"/>
<rect x="501.6" y="343" width="16.80" height="1.02" fill="#0048ff"/>
<rect x="501.6" y="344" width="16.80" height="1.02" fill="#0048ff"/>
<rect x="501.6" y="345" width="16.80" height="1.02" fill="#0044ff"/>
<rect x="501.6" y="346" width="16.80" height="1.02" fill="#0040ff"/>
<rect x="501.6" y="347" width="16.80" height="1.02" fill="#003cff"/>
<rect x="501.6" y="348" width="16.80" height="1.02" fill="#003cff"/>
<rect x="501.6" y="349" width="16.80" height="1.02" fill="#0038ff"/>
<rect x="501.6" y="350" width="16.80" height="1.02" fill="#0034ff"/>
<rect x="501.6" y="351" width="16.80" height="1.02" fill="#0030ff"/>
<rect x="501.6" y="352" width="16.80" height="1.02" fill="#0030ff"/>
<rect x="501.6" y="353" width="16.80" height="1.02" fill="#002cff"/>
<rect x="501.6" y="354" width="16.80" height="1.02" fill="#0028ff"/>
<rect x="501.6" y="355" width="16.80" height="1.02" fill="#0024ff"/>
<rect x="501.6" y="356" width="16.80" height="1.02" fill="#0024ff"/>
<rect x="501.6" y="357" width="16.80" height="1.02" fill="#0020ff"/>
<rect x="501.6" y="358" width="16.80" height="1.02" fill="#001cff"/>
<rect x="501.6" y="359" width="16.80" height="1.02" fill="#0018ff"/>
<rect x="501.6" y="360" width="16.80" height="1.02" fill="#0018ff"/>
<rect x="501.6" y="361" width="16.80" height="1.02" fill="#0014ff"/>
<rect x="501.6" y="362" width="16.80" height="1.02" fill="#0010ff"/>
<rect x="501.6" y="363" width="16.80" height="1.02" fill="#000cff"/>
<rect x="501.6" y="364" width="16.80" height="1.02" fill="#0008ff"/>
<rect x="501.6" y="365" width="16.80" height="1.02" fill="#0008ff"/>
<rect x="501.6" y="366" width="16.80" height="1.02" fill="#0004ff"/>
<rect x="501.6" y="367" width="16.80" height="1.02" fill="#0000ff"/>
<rect x="501.6" y="368" width="16.80" height="1.02" fill="#0000ff"/>
<rect x="501.6" y="369" width="16.80" height="1.02" fill="#0000ff"/>
<rect x="501.6" y="370" width="16.80" height="1.02" fill="#0000ff"/>
<rect x="501.6" y="371" width="16.80" height="1.02" fill="#0000ff"/>
<rect x="501.6" y="372" width="16.80" height="1.02" fill="#0000ff"/>
<rect x="501.6" y="373" width="16.80" height="1.02" fill="#0000ff"/>
<rect x="501.6" y="374" width="16.80" height="1.02" fill="#0000fa"/>
<rect x="501.6" y="375" width="16.80" height="1.02" fill="#0000f6"/>
<rect x="501.6" y="376" width="16.80" height="1.02" fill="#0000f1"/>
<rect x="501.6" y="377" width="16.80" height="1.02" fill="#0000f1"/>
<rect x="501.6" y="378" width="16.80" height="1.02" fill="#0000ed"/>
<rect x="501.6" y="379" width="16.80" height="1.02" fill="#0000e8"/>
<rect x="501.6" y="380" width="16.80" height="1.02" fill="#0000e3"/>
<rect x="501.6" y="381" width="16.80" height="1.02" fill="#0000e3"/>
<rect x="501.6" y="382" width="16.80" height="1.02" fill="#0000df"/>
<rect x="501.6" y="383" width="16.80" height="1.02" fill="#0000da"/>
<rect x="501.6" y="384" width="16.80" height="1.02" fill="#0000d6"/>
<rect x="501.6" y="385" width="16.80" height="1.02" fill="#0000d1"/>
<rect x="501.6" y="386" width="16.80" height="1.02" fill="#0000d1"/>
<rect x="501.6" y="387" width="16.80" height="1.02" fill="#0000cd"/>
<rect x="501.6" y="388" width="16.80" height="1.02" fill="#0000c8"/>
<rect x="501.6" y="389" width="16.80" height="1.02" fill="#0000c4"/>
<rect x="501.6" y="390" width="16.80" height="1.02" fill="#0000c4"/>
<rect x="501.6" y="391" width="16.80" height="1.02" fill="#0000bf"/>
<rect x="501.6" y="392" width="16.80" height="1.02" fill="#0000bb"/>
<rect x="501.6" y="393" width="16.80" height="1.02" fill="#0000b6"/>
<rect x="501.6" y="394" width="16.80" height="1.02" fill="#0000b6"/>
<rect x="501.6" y="395" width="16.80" height="1.02" fill="#0000b2"/>
<rect x="501.6" y="396" width="16.80" height="1.02" fill="#0000ad"/>
<rect x="501.6" y="397" width="16.80" height="1.02" fill="#0000a8"/>
<rect x="501.6" y="398" width="16.80" height="1.02" fill="#0000a8"/>
<rect x="501.6" y="399" width="16.80" height="1.02" fill="#0000a4"/>
<rect x="501.6" y="400" width="16.80" height="1.02" fill="#00009f"/>
<rect x="501.6" y="401" width="16.80" height="1.02" fill="#00009b"/>
<rect x="501.6" y="402" width="16.80" height="1.02" fill="#00009b"/>
<rect x="501.6" y="403" width="16.80" height="1.02" fill="#000096"/>
<rect x="501.6" y="404" width="16.80" height="1.02" fill="#000092"/>
<rect x="501.6" y="405" width="16.80" height="1.02" fill="#00008d"/>
<rect x="501.6" y="406" width="16.80" height="1.02" fill="#000089"/>
<rect x="501.6" y="407" width="16.80" height="1.02" fill="#000089"/>
<rect x="501.6" y="408" width="16.80" height="1.02" fill="#000084"/>
<rect x="501.6" y="409" width="16.80" height="1.02" fill="#000080"/>
<rect x="501.6" y="410" width="16.80" height="1.02" fill="#000080"/>
</g>
<path d="M501.6 74.9L510.0 57.6L518.4 74.9z" fill="#800000"/>
<path d="M501.6 409.9L510.0 427.2L518.4 409.9z" fill="#000080"/>
<path d="M501.6 74.4L510.0 57.6L518.4 74.4L518.4 410.4L510.0 427.2L501.6 410.4z" fill="none" stroke="#000" stroke-width="1.11" stroke-linejoin="miter" shape-rendering="crispEdges"/>
<g stroke="#000" stroke-width="1.11" fill="none">
<path d="M110.5 427.5v4.86"/>
<path d="M107.5 424.5h-4.86"/>
<path d="M168.5 427.5v4.86"/>
<path d="M107.5 367.5h-4.86"/>
<path d="M226.5 427.5v4.86"/>
<path d="M107.5 309.5h-4.86"/>
<path d="M283.5 427.5v4.86"/>
<path d="M107.5 251.5h-4.86"/>
<path d="M341.5 427.5v4.86"/>
<path d="M107.5 193.5h-4.86"/>
<path d="M399.5 427.5v4.86"/>
<path d="M107.5 136.5h-4.86"/>
<path d="M457.5 427.5v4.86"/>
<path d="M107.5 78.5h-4.86"/>
<path d="M518.4 410.5h5.41"/>
<path d="M518.4 366.5h5.41"/>
<path d="M518.4 321.5h5.41"/>
<path d="M518.4 276.5h5.41"/>
<path d="M518.4 231.5h5.41"/>
<path d="M518.4 186.5h5.41"/>
<path d="M518.4 142.5h5.41"/>
<path d="M518.4 97.5h5.41"/>
</g>
</svg>
<div class="t" id="sup">Data file: modeM0/AS1T03_243T01_9000003918_27203cztM0_level2_quad_clean.evt</div>
<div class="t" id="ttl">Quadrant 1 DPH</div>
<div class="t yt" style="right:541.6px;top:417.81px">0</div>
<div class="t yt" style="right:541.6px;top:360.06px">10</div>
<div class="t yt" style="right:541.6px;top:302.31px">20</div>
<div class="t yt" style="right:541.6px;top:244.56px">30</div>
<div class="t yt" style="right:541.6px;top:186.81px">40</div>
<div class="t yt" style="right:541.6px;top:129.06px">50</div>
<div class="t yt" style="right:541.6px;top:71.31px">60</div>
<div class="t xt" style="left:71.69px;width:80px;top:435.5px">0</div>
<div class="t xt" style="left:128.64px;width:80px;top:435.5px">10</div>
<div class="t xt" style="left:186.39px;width:80px;top:435.5px">20</div>
<div class="t xt" style="left:244.14px;width:80px;top:435.5px">30</div>
<div class="t xt" style="left:301.89px;width:80px;top:435.5px">40</div>
<div class="t xt" style="left:359.64px;width:80px;top:435.5px">50</div>
<div class="t xt" style="left:417.39px;width:80px;top:435.5px">60</div>
<div class="t ct" style="left:529.7px;top:403.90px">0</div>
<div class="t ct" style="left:529.7px;top:359.10px">50</div>
<div class="t ct" style="left:529.7px;top:314.30px">100</div>
<div class="t ct" style="left:529.7px;top:269.50px">150</div>
<div class="t ct" style="left:529.7px;top:224.70px">200</div>
<div class="t ct" style="left:529.7px;top:179.90px">250</div>
<div class="t ct" style="left:529.7px;top:135.10px">300</div>
<div class="t ct" style="left:529.7px;top:90.30px">350</div>
</body></html>
